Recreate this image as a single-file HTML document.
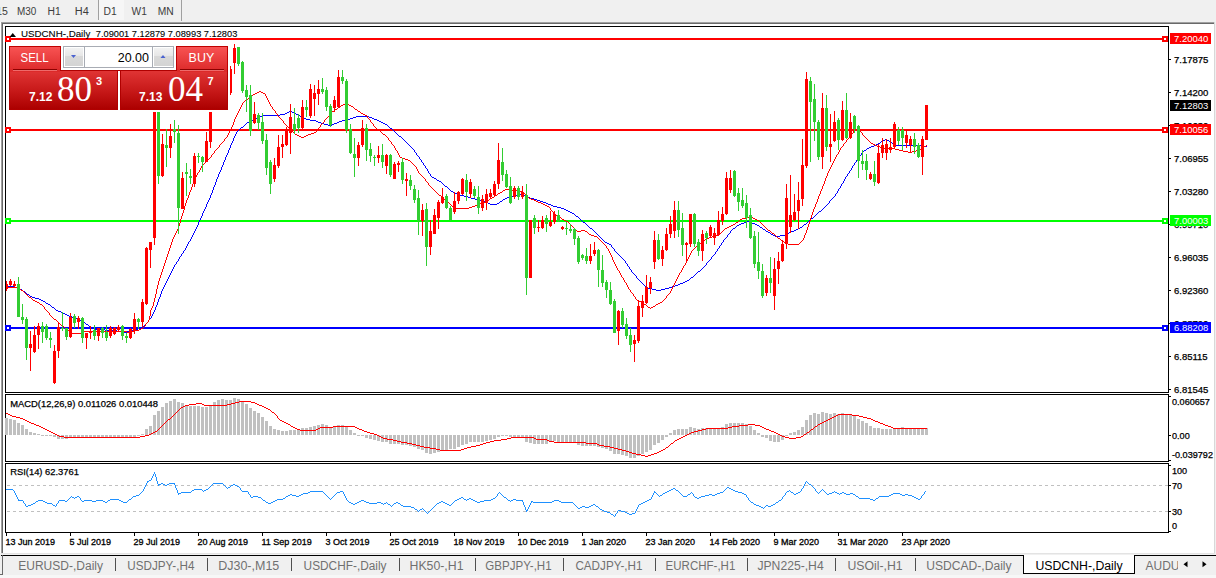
<!DOCTYPE html><html><head><meta charset="utf-8"><title>USDCNH-,Daily</title><style>
html,body{margin:0;padding:0;width:1216px;height:578px;overflow:hidden;background:#f0f0f0;}
svg{position:absolute;left:0;top:0;display:block}
text{font-family:"Liberation Sans",sans-serif;}
</style></head><body>
<svg width="1216" height="578" viewBox="0 0 1216 578">
<defs><linearGradient id="gTab" x1="0" y1="0" x2="0" y2="1"><stop offset="0" stop-color="#f85353"/><stop offset="1" stop-color="#dc2a2a"/></linearGradient><linearGradient id="gPan" x1="0" y1="0" x2="0" y2="1"><stop offset="0" stop-color="#e03434"/><stop offset="0.5" stop-color="#c81a1a"/><stop offset="1" stop-color="#ac0000"/></linearGradient><linearGradient id="gBtn" x1="0" y1="0" x2="0" y2="1"><stop offset="0" stop-color="#f2f2f2"/><stop offset="0.45" stop-color="#e6e6e6"/><stop offset="0.46" stop-color="#d9d9d9"/><stop offset="1" stop-color="#d4d4d4"/></linearGradient></defs>
<rect x="0" y="0" width="1216" height="22" fill="#f0f0f0"/>
<rect x="99" y="0" width="25" height="20" fill="#f6f6f6"/>
<rect x="98" y="0" width="1" height="20" fill="#a0a0a0"/>
<rect x="181" y="0" width="1" height="21" fill="#a0a0a0"/>
<text x="-12.6" y="14.5" font-size="10" fill="#3c3c3c" textLength="20.5" lengthAdjust="spacingAndGlyphs">M15</text>
<text x="16.9" y="14.5" font-size="10" fill="#3c3c3c" textLength="19.3" lengthAdjust="spacingAndGlyphs">M30</text>
<text x="47.6" y="14.5" font-size="10" fill="#3c3c3c" textLength="13.2" lengthAdjust="spacingAndGlyphs">H1</text>
<text x="74.8" y="14.5" font-size="10" fill="#3c3c3c" textLength="14" lengthAdjust="spacingAndGlyphs">H4</text>
<text x="103.6" y="14.5" font-size="10" fill="#3c3c3c" textLength="13.2" lengthAdjust="spacingAndGlyphs">D1</text>
<text x="131.5" y="14.5" font-size="10" fill="#3c3c3c" textLength="15.3" lengthAdjust="spacingAndGlyphs">W1</text>
<text x="157.8" y="14.5" font-size="10" fill="#3c3c3c" textLength="16" lengthAdjust="spacingAndGlyphs">MN</text>
<rect x="0" y="22" width="1216" height="534" fill="#f0f0f0"/>
<rect x="0" y="22" width="1" height="531" fill="#ffffff"/>
<rect x="1" y="22" width="1214" height="1" fill="#a0a0a0"/>
<rect x="1" y="22" width="1" height="531" fill="#a0a0a0"/>
<rect x="2" y="23" width="1212" height="1" fill="#696969"/>
<rect x="2" y="23" width="1" height="530" fill="#696969"/>
<rect x="3" y="24" width="1211" height="529" fill="#ffffff"/>
<rect x="1214" y="22" width="1" height="532" fill="#d8d8d8"/>
<rect x="1" y="553" width="1214" height="1" fill="#e3e3e3"/>
<rect x="5.5" y="26.5" width="1163" height="366" fill="none" stroke="#000" stroke-width="1"/>
<rect x="5.5" y="394.5" width="1163" height="67" fill="none" stroke="#000" stroke-width="1"/>
<rect x="5.5" y="463.5" width="1163" height="69" fill="none" stroke="#000" stroke-width="1"/>
<rect x="6" y="38" width="1162" height="2" fill="#ff0000"/>
<rect x="5" y="36" width="6" height="6" fill="#ff0000"/>
<rect x="7" y="38" width="2" height="2" fill="#fff"/>
<rect x="1162" y="36" width="6" height="6" fill="#ff0000"/>
<rect x="1164" y="38" width="2" height="2" fill="#fff"/>
<rect x="6" y="129" width="1162" height="2" fill="#ff0000"/>
<rect x="5" y="127" width="6" height="6" fill="#ff0000"/>
<rect x="7" y="129" width="2" height="2" fill="#fff"/>
<rect x="1162" y="127" width="6" height="6" fill="#ff0000"/>
<rect x="1164" y="129" width="2" height="2" fill="#fff"/>
<rect x="6" y="220" width="1162" height="2" fill="#00ff00"/>
<rect x="5" y="218" width="6" height="6" fill="#00ff00"/>
<rect x="7" y="220" width="2" height="2" fill="#fff"/>
<rect x="1162" y="218" width="6" height="6" fill="#00ff00"/>
<rect x="1164" y="220" width="2" height="2" fill="#fff"/>
<rect x="6" y="327" width="1162" height="2" fill="#0000ff"/>
<rect x="5" y="325" width="6" height="6" fill="#0000ff"/>
<rect x="7" y="327" width="2" height="2" fill="#fff"/>
<rect x="1162" y="325" width="6" height="6" fill="#0000ff"/>
<rect x="1164" y="327" width="2" height="2" fill="#fff"/>
<g clip-path="url(#cm)">
<path d="M6 286h1v1h-1zM7 286h1v1h-1zM8 286h1v1h-1zM9 286h1v1h-1zM10 286h1v1h-1zM11 286h1v1h-1zM12 286h1v1h-1zM13 286h1v1h-1zM14 286h1v1h-1zM15 287h1v1h-1zM16 287h1v1h-1zM17 287h1v1h-1zM18 288h1v1h-1zM19 288h1v1h-1zM20 289h1v1h-1zM21 289h1v1h-1zM22 290h1v1h-1zM23 291h1v1h-1zM24 291h1v1h-1zM25 292h1v1h-1zM26 293h1v1h-1zM27 294h1v1h-1zM28 294h1v1h-1zM29 295h1v1h-1zM30 296h1v1h-1zM31 296h1v1h-1zM32 297h1v1h-1zM33 297h1v1h-1zM34 297h1v1h-1zM35 298h1v1h-1zM36 298h1v1h-1zM37 298h1v1h-1zM38 298h1v1h-1zM39 299h1v1h-1zM40 299h1v1h-1zM41 300h1v1h-1zM42 300h1v1h-1zM43 301h1v1h-1zM44 301h1v1h-1zM45 302h1v1h-1zM46 303h1v1h-1zM47 303h1v1h-1zM48 304h1v1h-1zM49 304h1v1h-1zM50 305h1v1h-1zM51 306h1v1h-1zM52 307h1v1h-1zM53 307h1v1h-1zM54 308h1v1h-1zM55 309h1v1h-1zM56 310h1v1h-1zM57 310h1v1h-1zM58 311h1v1h-1zM59 311h1v1h-1zM60 311h1v1h-1zM61 312h1v1h-1zM62 312h1v1h-1zM63 313h1v1h-1zM64 313h1v1h-1zM65 314h1v1h-1zM66 314h1v1h-1zM67 315h1v1h-1zM68 315h1v1h-1zM69 316h1v1h-1zM70 316h1v1h-1zM71 316h1v1h-1zM72 317h1v1h-1zM73 317h1v1h-1zM74 317h1v1h-1zM75 318h1v1h-1zM76 318h1v1h-1zM77 318h1v1h-1zM78 319h1v1h-1zM79 319h1v1h-1zM80 320h1v1h-1zM81 320h1v1h-1zM82 321h1v1h-1zM83 321h1v1h-1zM84 322h1v1h-1zM85 323h1v1h-1zM86 324h1v1h-1zM87 324h1v1h-1zM88 325h1v1h-1zM89 326h1v1h-1zM90 327h1v1h-1zM91 327h1v1h-1zM92 328h1v1h-1zM93 328h1v1h-1zM94 329h1v1h-1zM95 329h1v1h-1zM96 329h1v1h-1zM97 329h1v1h-1zM98 329h1v1h-1zM99 329h1v1h-1zM100 329h1v1h-1zM101 329h1v1h-1zM102 329h1v1h-1zM103 329h1v1h-1zM104 329h1v1h-1zM105 330h1v1h-1zM106 330h1v1h-1zM107 330h1v1h-1zM108 330h1v1h-1zM109 330h1v1h-1zM110 330h1v1h-1zM111 330h1v1h-1zM112 330h1v1h-1zM113 330h1v1h-1zM114 330h1v1h-1zM115 330h1v1h-1zM116 330h1v1h-1zM117 331h1v1h-1zM118 331h1v1h-1zM119 331h1v1h-1zM120 331h1v1h-1zM121 331h1v1h-1zM122 331h1v1h-1zM123 332h1v1h-1zM124 332h1v1h-1zM125 332h1v1h-1zM126 332h1v1h-1zM127 331h1v1h-1zM128 331h1v1h-1zM129 331h1v1h-1zM130 331h1v1h-1zM131 330h1v1h-1zM132 330h1v1h-1zM133 330h1v1h-1zM134 329h1v1h-1zM135 329h1v1h-1zM136 329h1v1h-1zM137 329h1v1h-1zM138 328h1v1h-1zM139 328h1v1h-1zM140 328h1v1h-1zM141 327h1v1h-1zM142 326h1v1h-1zM143 326h1v1h-1zM144 325h1v1h-1zM145 324h1v1h-1zM146 323h1v1h-1zM147 322h1v1h-1zM148 320h1v2h-1zM149 319h1v1h-1zM150 318h1v1h-1zM151 316h1v2h-1zM152 314h1v2h-1zM153 312h1v2h-1zM154 310h1v2h-1zM155 307h1v3h-1zM156 305h1v2h-1zM157 302h1v3h-1zM158 299h1v3h-1zM159 297h1v2h-1zM160 294h1v3h-1zM161 291h1v3h-1zM162 289h1v2h-1zM163 287h1v2h-1zM164 285h1v2h-1zM165 283h1v2h-1zM166 281h1v2h-1zM167 279h1v2h-1zM168 277h1v2h-1zM169 275h1v2h-1zM170 273h1v2h-1zM171 271h1v2h-1zM172 269h1v2h-1zM173 267h1v2h-1zM174 265h1v2h-1zM175 264h1v1h-1zM176 262h1v2h-1zM177 261h1v1h-1zM178 259h1v2h-1zM179 257h1v2h-1zM180 256h1v1h-1zM181 254h1v2h-1zM182 253h1v1h-1zM183 251h1v2h-1zM184 250h1v1h-1zM185 248h1v2h-1zM186 246h1v2h-1zM187 244h1v2h-1zM188 242h1v2h-1zM189 241h1v1h-1zM190 239h1v2h-1zM191 237h1v2h-1zM192 235h1v2h-1zM193 233h1v2h-1zM194 231h1v2h-1zM195 229h1v2h-1zM196 227h1v2h-1zM197 225h1v2h-1zM198 222h1v3h-1zM199 220h1v2h-1zM200 218h1v2h-1zM201 216h1v2h-1zM202 213h1v3h-1zM203 211h1v2h-1zM204 209h1v2h-1zM205 207h1v2h-1zM206 204h1v3h-1zM207 202h1v2h-1zM208 200h1v2h-1zM209 198h1v2h-1zM210 195h1v3h-1zM211 193h1v2h-1zM212 190h1v3h-1zM213 187h1v3h-1zM214 185h1v2h-1zM215 182h1v3h-1zM216 179h1v3h-1zM217 177h1v2h-1zM218 174h1v3h-1zM219 172h1v2h-1zM220 170h1v2h-1zM221 167h1v3h-1zM222 165h1v2h-1zM223 162h1v3h-1zM224 160h1v2h-1zM225 157h1v3h-1zM226 155h1v2h-1zM227 153h1v2h-1zM228 150h1v3h-1zM229 148h1v2h-1zM230 145h1v3h-1zM231 143h1v2h-1zM232 141h1v2h-1zM233 138h1v3h-1zM234 136h1v2h-1zM235 134h1v2h-1zM236 132h1v2h-1zM237 131h1v1h-1zM238 130h1v1h-1zM239 129h1v1h-1zM240 128h1v1h-1zM241 127h1v1h-1zM242 127h1v1h-1zM243 126h1v1h-1zM244 125h1v1h-1zM245 124h1v1h-1zM246 123h1v1h-1zM247 122h1v1h-1zM248 122h1v1h-1zM249 121h1v1h-1zM250 121h1v1h-1zM251 120h1v1h-1zM252 120h1v1h-1zM253 119h1v1h-1zM254 119h1v1h-1zM255 118h1v1h-1zM256 118h1v1h-1zM257 118h1v1h-1zM258 117h1v1h-1zM259 117h1v1h-1zM260 116h1v1h-1zM261 116h1v1h-1zM262 116h1v1h-1zM263 115h1v1h-1zM264 115h1v1h-1zM265 115h1v1h-1zM266 115h1v1h-1zM267 115h1v1h-1zM268 115h1v1h-1zM269 115h1v1h-1zM270 115h1v1h-1zM271 115h1v1h-1zM272 115h1v1h-1zM273 115h1v1h-1zM274 115h1v1h-1zM275 115h1v1h-1zM276 115h1v1h-1zM277 115h1v1h-1zM278 115h1v1h-1zM279 115h1v1h-1zM280 114h1v1h-1zM281 114h1v1h-1zM282 114h1v1h-1zM283 114h1v1h-1zM284 114h1v1h-1zM285 113h1v1h-1zM286 113h1v1h-1zM287 112h1v1h-1zM288 112h1v1h-1zM289 111h1v1h-1zM290 111h1v1h-1zM291 111h1v1h-1zM292 112h1v1h-1zM293 112h1v1h-1zM294 113h1v1h-1zM295 113h1v1h-1zM296 114h1v1h-1zM297 114h1v1h-1zM298 115h1v1h-1zM299 115h1v1h-1zM300 116h1v1h-1zM301 116h1v1h-1zM302 117h1v1h-1zM303 117h1v1h-1zM304 118h1v1h-1zM305 118h1v1h-1zM306 119h1v1h-1zM307 119h1v1h-1zM308 119h1v1h-1zM309 119h1v1h-1zM310 120h1v1h-1zM311 120h1v1h-1zM312 120h1v1h-1zM313 120h1v1h-1zM314 120h1v1h-1zM315 120h1v1h-1zM316 121h1v1h-1zM317 121h1v1h-1zM318 122h1v1h-1zM319 122h1v1h-1zM320 122h1v1h-1zM321 123h1v1h-1zM322 123h1v1h-1zM323 123h1v1h-1zM324 124h1v1h-1zM325 124h1v1h-1zM326 124h1v1h-1zM327 124h1v1h-1zM328 125h1v1h-1zM329 125h1v1h-1zM330 125h1v1h-1zM331 125h1v1h-1zM332 124h1v1h-1zM333 124h1v1h-1zM334 123h1v1h-1zM335 123h1v1h-1zM336 123h1v1h-1zM337 122h1v1h-1zM338 122h1v1h-1zM339 121h1v1h-1zM340 121h1v1h-1zM341 121h1v1h-1zM342 120h1v1h-1zM343 120h1v1h-1zM344 120h1v1h-1zM345 120h1v1h-1zM346 119h1v1h-1zM347 119h1v1h-1zM348 119h1v1h-1zM349 119h1v1h-1zM350 118h1v1h-1zM351 118h1v1h-1zM352 118h1v1h-1zM353 117h1v1h-1zM354 117h1v1h-1zM355 117h1v1h-1zM356 116h1v1h-1zM357 116h1v1h-1zM358 116h1v1h-1zM359 116h1v1h-1zM360 116h1v1h-1zM361 116h1v1h-1zM362 116h1v1h-1zM363 116h1v1h-1zM364 116h1v1h-1zM365 116h1v1h-1zM366 116h1v1h-1zM367 116h1v1h-1zM368 116h1v1h-1zM369 117h1v1h-1zM370 117h1v1h-1zM371 117h1v1h-1zM372 118h1v1h-1zM373 118h1v1h-1zM374 119h1v1h-1zM375 119h1v1h-1zM376 119h1v1h-1zM377 120h1v1h-1zM378 120h1v1h-1zM379 121h1v1h-1zM380 121h1v1h-1zM381 122h1v1h-1zM382 122h1v1h-1zM383 123h1v1h-1zM384 123h1v1h-1zM385 124h1v1h-1zM386 124h1v1h-1zM387 125h1v1h-1zM388 126h1v1h-1zM389 127h1v1h-1zM390 128h1v1h-1zM391 128h1v1h-1zM392 129h1v1h-1zM393 130h1v1h-1zM394 131h1v1h-1zM395 132h1v1h-1zM396 133h1v1h-1zM397 134h1v1h-1zM398 135h1v1h-1zM399 136h1v1h-1zM400 136h1v1h-1zM401 137h1v1h-1zM402 138h1v1h-1zM403 139h1v1h-1zM404 140h1v1h-1zM405 141h1v1h-1zM406 142h1v1h-1zM407 143h1v1h-1zM408 144h1v1h-1zM409 145h1v1h-1zM410 146h1v1h-1zM411 147h1v1h-1zM412 148h1v1h-1zM413 149h1v1h-1zM414 150h1v2h-1zM415 152h1v1h-1zM416 153h1v2h-1zM417 155h1v1h-1zM418 156h1v1h-1zM419 157h1v2h-1zM420 159h1v1h-1zM421 160h1v2h-1zM422 162h1v1h-1zM423 163h1v2h-1zM424 165h1v1h-1zM425 166h1v2h-1zM426 168h1v1h-1zM427 169h1v2h-1zM428 171h1v2h-1zM429 173h1v1h-1zM430 174h1v2h-1zM431 176h1v1h-1zM432 177h1v1h-1zM433 177h1v1h-1zM434 178h1v1h-1zM435 178h1v1h-1zM436 179h1v1h-1zM437 180h1v1h-1zM438 180h1v1h-1zM439 181h1v1h-1zM440 181h1v1h-1zM441 182h1v1h-1zM442 183h1v1h-1zM443 184h1v1h-1zM444 185h1v1h-1zM445 186h1v1h-1zM446 186h1v1h-1zM447 187h1v1h-1zM448 188h1v1h-1zM449 189h1v1h-1zM450 190h1v1h-1zM451 191h1v1h-1zM452 191h1v1h-1zM453 192h1v1h-1zM454 192h1v1h-1zM455 193h1v1h-1zM456 193h1v1h-1zM457 194h1v1h-1zM458 194h1v1h-1zM459 194h1v1h-1zM460 195h1v1h-1zM461 195h1v1h-1zM462 195h1v1h-1zM463 195h1v1h-1zM464 196h1v1h-1zM465 196h1v1h-1zM466 196h1v1h-1zM467 196h1v1h-1zM468 197h1v1h-1zM469 197h1v1h-1zM470 197h1v1h-1zM471 198h1v1h-1zM472 198h1v1h-1zM473 198h1v1h-1zM474 198h1v1h-1zM475 199h1v1h-1zM476 199h1v1h-1zM477 199h1v1h-1zM478 199h1v1h-1zM479 200h1v1h-1zM480 200h1v1h-1zM481 200h1v1h-1zM482 200h1v1h-1zM483 201h1v1h-1zM484 201h1v1h-1zM485 202h1v1h-1zM486 202h1v1h-1zM487 202h1v1h-1zM488 203h1v1h-1zM489 203h1v1h-1zM490 204h1v1h-1zM491 204h1v1h-1zM492 204h1v1h-1zM493 204h1v1h-1zM494 204h1v1h-1zM495 204h1v1h-1zM496 204h1v1h-1zM497 203h1v1h-1zM498 203h1v1h-1zM499 202h1v1h-1zM500 201h1v1h-1zM501 201h1v1h-1zM502 200h1v1h-1zM503 199h1v1h-1zM504 199h1v1h-1zM505 198h1v1h-1zM506 198h1v1h-1zM507 197h1v1h-1zM508 197h1v1h-1zM509 197h1v1h-1zM510 196h1v1h-1zM511 196h1v1h-1zM512 196h1v1h-1zM513 195h1v1h-1zM514 195h1v1h-1zM515 195h1v1h-1zM516 195h1v1h-1zM517 195h1v1h-1zM518 194h1v1h-1zM519 194h1v1h-1zM520 194h1v1h-1zM521 194h1v1h-1zM522 194h1v1h-1zM523 195h1v1h-1zM524 195h1v1h-1zM525 196h1v1h-1zM526 196h1v1h-1zM527 197h1v1h-1zM528 197h1v1h-1zM529 197h1v1h-1zM530 198h1v1h-1zM531 198h1v1h-1zM532 198h1v1h-1zM533 198h1v1h-1zM534 199h1v1h-1zM535 199h1v1h-1zM536 199h1v1h-1zM537 200h1v1h-1zM538 200h1v1h-1zM539 200h1v1h-1zM540 201h1v1h-1zM541 201h1v1h-1zM542 201h1v1h-1zM543 202h1v1h-1zM544 202h1v1h-1zM545 202h1v1h-1zM546 203h1v1h-1zM547 203h1v1h-1zM548 204h1v1h-1zM549 204h1v1h-1zM550 204h1v1h-1zM551 205h1v1h-1zM552 205h1v1h-1zM553 206h1v1h-1zM554 206h1v1h-1zM555 206h1v1h-1zM556 206h1v1h-1zM557 207h1v1h-1zM558 207h1v1h-1zM559 207h1v1h-1zM560 207h1v1h-1zM561 208h1v1h-1zM562 208h1v1h-1zM563 208h1v1h-1zM564 209h1v1h-1zM565 209h1v1h-1zM566 210h1v1h-1zM567 210h1v1h-1zM568 211h1v1h-1zM569 211h1v1h-1zM570 212h1v1h-1zM571 212h1v1h-1zM572 213h1v1h-1zM573 213h1v1h-1zM574 214h1v1h-1zM575 215h1v1h-1zM576 216h1v1h-1zM577 216h1v1h-1zM578 217h1v1h-1zM579 218h1v1h-1zM580 219h1v1h-1zM581 220h1v1h-1zM582 221h1v1h-1zM583 222h1v1h-1zM584 222h1v1h-1zM585 223h1v1h-1zM586 224h1v1h-1zM587 225h1v1h-1zM588 226h1v1h-1zM589 227h1v1h-1zM590 228h1v1h-1zM591 228h1v1h-1zM592 229h1v1h-1zM593 230h1v1h-1zM594 231h1v1h-1zM595 232h1v1h-1zM596 233h1v1h-1zM597 234h1v1h-1zM598 235h1v1h-1zM599 236h1v1h-1zM600 237h1v1h-1zM601 238h1v1h-1zM602 239h1v1h-1zM603 240h1v1h-1zM604 241h1v1h-1zM605 242h1v1h-1zM606 242h1v1h-1zM607 243h1v1h-1zM608 243h1v1h-1zM609 244h1v1h-1zM610 244h1v1h-1zM611 245h1v2h-1zM612 247h1v1h-1zM613 248h1v1h-1zM614 249h1v2h-1zM615 251h1v1h-1zM616 252h1v1h-1zM617 253h1v1h-1zM618 254h1v1h-1zM619 255h1v1h-1zM620 256h1v1h-1zM621 257h1v1h-1zM622 258h1v1h-1zM623 259h1v1h-1zM624 260h1v1h-1zM625 261h1v2h-1zM626 263h1v1h-1zM627 264h1v2h-1zM628 266h1v1h-1zM629 267h1v2h-1zM630 269h1v1h-1zM631 270h1v2h-1zM632 272h1v1h-1zM633 273h1v1h-1zM634 274h1v1h-1zM635 275h1v1h-1zM636 276h1v2h-1zM637 278h1v1h-1zM638 279h1v1h-1zM639 280h1v1h-1zM640 281h1v1h-1zM641 282h1v1h-1zM642 283h1v1h-1zM643 284h1v1h-1zM644 285h1v1h-1zM645 286h1v1h-1zM646 287h1v1h-1zM647 287h1v1h-1zM648 288h1v1h-1zM649 288h1v1h-1zM650 288h1v1h-1zM651 288h1v1h-1zM652 289h1v1h-1zM653 289h1v1h-1zM654 289h1v1h-1zM655 289h1v1h-1zM656 290h1v1h-1zM657 290h1v1h-1zM658 290h1v1h-1zM659 290h1v1h-1zM660 290h1v1h-1zM661 289h1v1h-1zM662 289h1v1h-1zM663 289h1v1h-1zM664 289h1v1h-1zM665 288h1v1h-1zM666 288h1v1h-1zM667 288h1v1h-1zM668 288h1v1h-1zM669 287h1v1h-1zM670 287h1v1h-1zM671 287h1v1h-1zM672 286h1v1h-1zM673 286h1v1h-1zM674 286h1v1h-1zM675 285h1v1h-1zM676 285h1v1h-1zM677 285h1v1h-1zM678 284h1v1h-1zM679 284h1v1h-1zM680 283h1v1h-1zM681 283h1v1h-1zM682 283h1v1h-1zM683 282h1v1h-1zM684 282h1v1h-1zM685 281h1v1h-1zM686 281h1v1h-1zM687 280h1v1h-1zM688 280h1v1h-1zM689 279h1v1h-1zM690 278h1v1h-1zM691 277h1v1h-1zM692 277h1v1h-1zM693 276h1v1h-1zM694 275h1v1h-1zM695 274h1v1h-1zM696 273h1v1h-1zM697 272h1v1h-1zM698 271h1v1h-1zM699 271h1v1h-1zM700 270h1v1h-1zM701 269h1v1h-1zM702 268h1v1h-1zM703 267h1v1h-1zM704 266h1v1h-1zM705 265h1v1h-1zM706 263h1v2h-1zM707 262h1v1h-1zM708 261h1v1h-1zM709 260h1v1h-1zM710 259h1v1h-1zM711 257h1v2h-1zM712 256h1v1h-1zM713 255h1v1h-1zM714 254h1v1h-1zM715 252h1v2h-1zM716 251h1v1h-1zM717 249h1v2h-1zM718 248h1v1h-1zM719 246h1v2h-1zM720 245h1v1h-1zM721 243h1v2h-1zM722 242h1v1h-1zM723 240h1v2h-1zM724 239h1v1h-1zM725 238h1v1h-1zM726 237h1v1h-1zM727 235h1v2h-1zM728 234h1v1h-1zM729 233h1v1h-1zM730 231h1v2h-1zM731 230h1v1h-1zM732 229h1v1h-1zM733 228h1v1h-1zM734 228h1v1h-1zM735 227h1v1h-1zM736 226h1v1h-1zM737 225h1v1h-1zM738 225h1v1h-1zM739 224h1v1h-1zM740 224h1v1h-1zM741 223h1v1h-1zM742 223h1v1h-1zM743 223h1v1h-1zM744 222h1v1h-1zM745 222h1v1h-1zM746 222h1v1h-1zM747 221h1v1h-1zM748 221h1v1h-1zM749 221h1v1h-1zM750 222h1v1h-1zM751 222h1v1h-1zM752 223h1v1h-1zM753 223h1v1h-1zM754 223h1v1h-1zM755 224h1v1h-1zM756 224h1v1h-1zM757 225h1v1h-1zM758 225h1v1h-1zM759 226h1v1h-1zM760 227h1v1h-1zM761 227h1v1h-1zM762 228h1v1h-1zM763 229h1v1h-1zM764 229h1v1h-1zM765 230h1v1h-1zM766 231h1v1h-1zM767 231h1v1h-1zM768 232h1v1h-1zM769 232h1v1h-1zM770 233h1v1h-1zM771 234h1v1h-1zM772 234h1v1h-1zM773 235h1v1h-1zM774 235h1v1h-1zM775 236h1v1h-1zM776 236h1v1h-1zM777 236h1v1h-1zM778 236h1v1h-1zM779 236h1v1h-1zM780 235h1v1h-1zM781 235h1v1h-1zM782 235h1v1h-1zM783 235h1v1h-1zM784 235h1v1h-1zM785 234h1v1h-1zM786 234h1v1h-1zM787 233h1v1h-1zM788 233h1v1h-1zM789 232h1v1h-1zM790 232h1v1h-1zM791 231h1v1h-1zM792 231h1v1h-1zM793 231h1v1h-1zM794 230h1v1h-1zM795 230h1v1h-1zM796 229h1v1h-1zM797 229h1v1h-1zM798 228h1v1h-1zM799 228h1v1h-1zM800 227h1v1h-1zM801 227h1v1h-1zM802 226h1v1h-1zM803 225h1v1h-1zM804 224h1v1h-1zM805 224h1v1h-1zM806 223h1v1h-1zM807 222h1v1h-1zM808 221h1v1h-1zM809 220h1v1h-1zM810 219h1v1h-1zM811 218h1v1h-1zM812 218h1v1h-1zM813 217h1v1h-1zM814 216h1v1h-1zM815 215h1v1h-1zM816 214h1v1h-1zM817 213h1v1h-1zM818 212h1v1h-1zM819 211h1v1h-1zM820 211h1v1h-1zM821 210h1v1h-1zM822 209h1v1h-1zM823 208h1v1h-1zM824 207h1v1h-1zM825 206h1v1h-1zM826 205h1v1h-1zM827 204h1v1h-1zM828 203h1v1h-1zM829 201h1v2h-1zM830 200h1v1h-1zM831 199h1v1h-1zM832 198h1v1h-1zM833 197h1v1h-1zM834 196h1v1h-1zM835 194h1v2h-1zM836 193h1v1h-1zM837 191h1v2h-1zM838 189h1v2h-1zM839 188h1v1h-1zM840 186h1v2h-1zM841 184h1v2h-1zM842 183h1v1h-1zM843 181h1v2h-1zM844 179h1v2h-1zM845 177h1v2h-1zM846 176h1v1h-1zM847 174h1v2h-1zM848 173h1v1h-1zM849 171h1v2h-1zM850 170h1v1h-1zM851 168h1v2h-1zM852 166h1v2h-1zM853 165h1v1h-1zM854 163h1v2h-1zM855 162h1v1h-1zM856 160h1v2h-1zM857 159h1v1h-1zM858 158h1v1h-1zM859 156h1v2h-1zM860 155h1v1h-1zM861 153h1v2h-1zM862 152h1v1h-1zM863 151h1v1h-1zM864 150h1v1h-1zM865 150h1v1h-1zM866 149h1v1h-1zM867 148h1v1h-1zM868 148h1v1h-1zM869 147h1v1h-1zM870 147h1v1h-1zM871 146h1v1h-1zM872 146h1v1h-1zM873 146h1v1h-1zM874 145h1v1h-1zM875 145h1v1h-1zM876 144h1v1h-1zM877 144h1v1h-1zM878 143h1v1h-1zM879 143h1v1h-1zM880 142h1v1h-1zM881 141h1v1h-1zM882 141h1v1h-1zM883 140h1v1h-1zM884 140h1v1h-1zM885 139h1v1h-1zM886 139h1v1h-1zM887 140h1v1h-1zM888 140h1v1h-1zM889 141h1v1h-1zM890 142h1v1h-1zM891 142h1v1h-1zM892 143h1v1h-1zM893 143h1v1h-1zM894 144h1v1h-1zM895 144h1v1h-1zM896 145h1v1h-1zM897 145h1v1h-1zM898 145h1v1h-1zM899 145h1v1h-1zM900 145h1v1h-1zM901 145h1v1h-1zM902 145h1v1h-1zM903 145h1v1h-1zM904 145h1v1h-1zM905 145h1v1h-1zM906 145h1v1h-1zM907 145h1v1h-1zM908 145h1v1h-1zM909 145h1v1h-1zM910 145h1v1h-1zM911 145h1v1h-1zM912 145h1v1h-1zM913 145h1v1h-1zM914 145h1v1h-1zM915 145h1v1h-1zM916 145h1v1h-1zM917 145h1v1h-1zM918 145h1v1h-1zM919 145h1v1h-1zM920 145h1v1h-1zM921 145h1v1h-1zM922 146h1v1h-1zM923 146h1v1h-1zM924 146h1v1h-1zM925 146h1v1h-1zM926 146h1v1h-1z" fill="#0000ff" shape-rendering="crispEdges" />
<path d="M6 287h1v1h-1zM7 287h1v1h-1zM8 287h1v1h-1zM9 287h1v1h-1zM10 287h1v1h-1zM11 287h1v1h-1zM12 287h1v1h-1zM13 287h1v1h-1zM14 287h1v1h-1zM15 287h1v1h-1zM16 287h1v1h-1zM17 288h1v1h-1zM18 288h1v1h-1zM19 289h1v1h-1zM20 289h1v1h-1zM21 290h1v1h-1zM22 290h1v1h-1zM23 291h1v1h-1zM24 292h1v1h-1zM25 293h1v1h-1zM26 294h1v1h-1zM27 295h1v1h-1zM28 296h1v1h-1zM29 297h1v1h-1zM30 297h1v1h-1zM31 298h1v1h-1zM32 299h1v1h-1zM33 300h1v1h-1zM34 300h1v1h-1zM35 301h1v1h-1zM36 301h1v1h-1zM37 302h1v1h-1zM38 302h1v1h-1zM39 303h1v1h-1zM40 304h1v1h-1zM41 304h1v1h-1zM42 305h1v1h-1zM43 306h1v1h-1zM44 307h1v2h-1zM45 309h1v1h-1zM46 310h1v1h-1zM47 311h1v1h-1zM48 312h1v1h-1zM49 313h1v2h-1zM50 315h1v1h-1zM51 316h1v1h-1zM52 317h1v1h-1zM53 318h1v1h-1zM54 319h1v1h-1zM55 319h1v1h-1zM56 320h1v1h-1zM57 321h1v1h-1zM58 322h1v1h-1zM59 323h1v1h-1zM60 324h1v1h-1zM61 325h1v1h-1zM62 325h1v1h-1zM63 326h1v1h-1zM64 327h1v1h-1zM65 328h1v1h-1zM66 328h1v1h-1zM67 329h1v1h-1zM68 330h1v1h-1zM69 331h1v1h-1zM70 332h1v1h-1zM71 332h1v1h-1zM72 333h1v1h-1zM73 333h1v1h-1zM74 333h1v1h-1zM75 333h1v1h-1zM76 333h1v1h-1zM77 333h1v1h-1zM78 333h1v1h-1zM79 333h1v1h-1zM80 333h1v1h-1zM81 333h1v1h-1zM82 333h1v1h-1zM83 332h1v1h-1zM84 331h1v1h-1zM85 331h1v1h-1zM86 331h1v1h-1zM87 331h1v1h-1zM88 331h1v1h-1zM89 331h1v1h-1zM90 331h1v1h-1zM91 331h1v1h-1zM92 331h1v1h-1zM93 331h1v1h-1zM94 331h1v1h-1zM95 331h1v1h-1zM96 331h1v1h-1zM97 331h1v1h-1zM98 331h1v1h-1zM99 331h1v1h-1zM100 331h1v1h-1zM101 331h1v1h-1zM102 331h1v1h-1zM103 331h1v1h-1zM104 331h1v1h-1zM105 331h1v1h-1zM106 331h1v1h-1zM107 331h1v1h-1zM108 331h1v1h-1zM109 331h1v1h-1zM110 331h1v1h-1zM111 331h1v1h-1zM112 331h1v1h-1zM113 331h1v1h-1zM114 331h1v1h-1zM115 331h1v1h-1zM116 331h1v1h-1zM117 331h1v1h-1zM118 331h1v1h-1zM119 331h1v1h-1zM120 331h1v1h-1zM121 331h1v1h-1zM122 331h1v1h-1zM123 331h1v1h-1zM124 331h1v1h-1zM125 331h1v1h-1zM126 331h1v1h-1zM127 332h1v1h-1zM128 332h1v1h-1zM129 332h1v1h-1zM130 331h1v1h-1zM131 331h1v1h-1zM132 331h1v1h-1zM133 331h1v1h-1zM134 331h1v1h-1zM135 330h1v1h-1zM136 330h1v1h-1zM137 330h1v1h-1zM138 330h1v1h-1zM139 329h1v1h-1zM140 329h1v1h-1zM141 328h1v1h-1zM142 328h1v1h-1zM143 327h1v1h-1zM144 326h1v1h-1zM145 324h1v2h-1zM146 323h1v1h-1zM147 322h1v1h-1zM148 320h1v2h-1zM149 316h1v4h-1zM150 310h1v6h-1zM151 308h1v2h-1zM152 306h1v2h-1zM153 302h1v4h-1zM154 298h1v4h-1zM155 294h1v4h-1zM156 289h1v5h-1zM157 285h1v4h-1zM158 281h1v4h-1zM159 278h1v3h-1zM160 275h1v3h-1zM161 272h1v3h-1zM162 269h1v3h-1zM163 266h1v3h-1zM164 263h1v3h-1zM165 260h1v3h-1zM166 257h1v3h-1zM167 254h1v3h-1zM168 251h1v3h-1zM169 248h1v3h-1zM170 245h1v3h-1zM171 242h1v3h-1zM172 239h1v3h-1zM173 237h1v2h-1zM174 235h1v2h-1zM175 233h1v2h-1zM176 231h1v2h-1zM177 229h1v2h-1zM178 226h1v3h-1zM179 223h1v3h-1zM180 219h1v4h-1zM181 216h1v3h-1zM182 213h1v3h-1zM183 210h1v3h-1zM184 206h1v4h-1zM185 203h1v3h-1zM186 200h1v3h-1zM187 198h1v2h-1zM188 195h1v3h-1zM189 192h1v3h-1zM190 190h1v2h-1zM191 187h1v3h-1zM192 184h1v3h-1zM193 182h1v2h-1zM194 179h1v3h-1zM195 177h1v2h-1zM196 175h1v2h-1zM197 173h1v2h-1zM198 172h1v1h-1zM199 170h1v2h-1zM200 168h1v2h-1zM201 166h1v2h-1zM202 165h1v1h-1zM203 164h1v1h-1zM204 163h1v1h-1zM205 162h1v1h-1zM206 161h1v1h-1zM207 160h1v1h-1zM208 159h1v1h-1zM209 158h1v1h-1zM210 157h1v1h-1zM211 155h1v2h-1zM212 154h1v1h-1zM213 153h1v1h-1zM214 151h1v2h-1zM215 150h1v1h-1zM216 149h1v1h-1zM217 148h1v1h-1zM218 147h1v1h-1zM219 145h1v2h-1zM220 144h1v1h-1zM221 143h1v1h-1zM222 142h1v1h-1zM223 141h1v1h-1zM224 139h1v2h-1zM225 138h1v1h-1zM226 137h1v1h-1zM227 135h1v2h-1zM228 133h1v2h-1zM229 131h1v2h-1zM230 129h1v2h-1zM231 127h1v2h-1zM232 125h1v2h-1zM233 122h1v3h-1zM234 119h1v3h-1zM235 117h1v2h-1zM236 115h1v2h-1zM237 113h1v2h-1zM238 111h1v2h-1zM239 109h1v2h-1zM240 107h1v2h-1zM241 105h1v2h-1zM242 103h1v2h-1zM243 102h1v1h-1zM244 101h1v1h-1zM245 100h1v1h-1zM246 100h1v1h-1zM247 99h1v1h-1zM248 98h1v1h-1zM249 97h1v1h-1zM250 97h1v1h-1zM251 96h1v1h-1zM252 95h1v1h-1zM253 94h1v1h-1zM254 94h1v1h-1zM255 93h1v1h-1zM256 93h1v1h-1zM257 92h1v1h-1zM258 92h1v1h-1zM259 91h1v1h-1zM260 91h1v1h-1zM261 92h1v1h-1zM262 92h1v1h-1zM263 93h1v1h-1zM264 93h1v1h-1zM265 94h1v2h-1zM266 96h1v2h-1zM267 98h1v2h-1zM268 100h1v2h-1zM269 102h1v2h-1zM270 104h1v2h-1zM271 106h1v1h-1zM272 107h1v2h-1zM273 109h1v1h-1zM274 110h1v1h-1zM275 111h1v2h-1zM276 113h1v1h-1zM277 114h1v2h-1zM278 116h1v1h-1zM279 117h1v1h-1zM280 118h1v1h-1zM281 119h1v1h-1zM282 120h1v1h-1zM283 121h1v2h-1zM284 123h1v1h-1zM285 124h1v1h-1zM286 125h1v1h-1zM287 126h1v1h-1zM288 127h1v1h-1zM289 128h1v1h-1zM290 129h1v1h-1zM291 130h1v1h-1zM292 131h1v1h-1zM293 132h1v1h-1zM294 133h1v1h-1zM295 134h1v1h-1zM296 134h1v1h-1zM297 135h1v1h-1zM298 135h1v1h-1zM299 136h1v1h-1zM300 136h1v1h-1zM301 137h1v1h-1zM302 137h1v1h-1zM303 137h1v1h-1zM304 136h1v1h-1zM305 136h1v1h-1zM306 135h1v1h-1zM307 135h1v1h-1zM308 134h1v1h-1zM309 134h1v1h-1zM310 134h1v1h-1zM311 133h1v1h-1zM312 133h1v1h-1zM313 133h1v1h-1zM314 132h1v1h-1zM315 132h1v1h-1zM316 131h1v1h-1zM317 129h1v2h-1zM318 128h1v1h-1zM319 127h1v1h-1zM320 125h1v2h-1zM321 124h1v1h-1zM322 123h1v1h-1zM323 122h1v1h-1zM324 120h1v2h-1zM325 119h1v1h-1zM326 118h1v1h-1zM327 117h1v1h-1zM328 116h1v1h-1zM329 114h1v2h-1zM330 113h1v1h-1zM331 112h1v1h-1zM332 111h1v1h-1zM333 111h1v1h-1zM334 110h1v1h-1zM335 109h1v1h-1zM336 109h1v1h-1zM337 108h1v1h-1zM338 107h1v1h-1zM339 107h1v1h-1zM340 106h1v1h-1zM341 105h1v1h-1zM342 105h1v1h-1zM343 104h1v1h-1zM344 104h1v1h-1zM345 103h1v1h-1zM346 103h1v1h-1zM347 104h1v1h-1zM348 104h1v1h-1zM349 105h1v1h-1zM350 105h1v1h-1zM351 106h1v1h-1zM352 106h1v1h-1zM353 107h1v1h-1zM354 108h1v1h-1zM355 109h1v1h-1zM356 109h1v1h-1zM357 110h1v1h-1zM358 111h1v1h-1zM359 111h1v1h-1zM360 112h1v1h-1zM361 113h1v1h-1zM362 113h1v1h-1zM363 114h1v1h-1zM364 114h1v1h-1zM365 115h1v1h-1zM366 115h1v1h-1zM367 116h1v2h-1zM368 118h1v1h-1zM369 119h1v1h-1zM370 120h1v2h-1zM371 122h1v1h-1zM372 123h1v1h-1zM373 124h1v2h-1zM374 126h1v1h-1zM375 127h1v1h-1zM376 128h1v1h-1zM377 129h1v1h-1zM378 129h1v1h-1zM379 130h1v1h-1zM380 131h1v1h-1zM381 132h1v1h-1zM382 133h1v1h-1zM383 134h1v1h-1zM384 134h1v1h-1zM385 135h1v1h-1zM386 136h1v1h-1zM387 137h1v1h-1zM388 138h1v2h-1zM389 140h1v1h-1zM390 141h1v1h-1zM391 142h1v2h-1zM392 144h1v1h-1zM393 145h1v1h-1zM394 146h1v2h-1zM395 148h1v2h-1zM396 150h1v1h-1zM397 151h1v2h-1zM398 153h1v2h-1zM399 155h1v2h-1zM400 157h1v1h-1zM401 157h1v1h-1zM402 158h1v1h-1zM403 158h1v1h-1zM404 158h1v1h-1zM405 159h1v1h-1zM406 159h1v1h-1zM407 159h1v1h-1zM408 160h1v1h-1zM409 160h1v1h-1zM410 161h1v1h-1zM411 162h1v1h-1zM412 163h1v1h-1zM413 164h1v1h-1zM414 165h1v1h-1zM415 166h1v1h-1zM416 167h1v2h-1zM417 169h1v2h-1zM418 171h1v2h-1zM419 173h1v1h-1zM420 174h1v1h-1zM421 175h1v1h-1zM422 176h1v1h-1zM423 177h1v1h-1zM424 178h1v1h-1zM425 179h1v2h-1zM426 181h1v1h-1zM427 182h1v1h-1zM428 183h1v2h-1zM429 185h1v1h-1zM430 186h1v1h-1zM431 187h1v1h-1zM432 188h1v1h-1zM433 189h1v1h-1zM434 190h1v1h-1zM435 191h1v1h-1zM436 192h1v1h-1zM437 193h1v1h-1zM438 194h1v1h-1zM439 195h1v1h-1zM440 195h1v1h-1zM441 196h1v1h-1zM442 197h1v1h-1zM443 198h1v1h-1zM444 199h1v1h-1zM445 200h1v1h-1zM446 201h1v1h-1zM447 202h1v1h-1zM448 202h1v1h-1zM449 203h1v1h-1zM450 204h1v1h-1zM451 205h1v1h-1zM452 206h1v1h-1zM453 206h1v1h-1zM454 207h1v1h-1zM455 207h1v1h-1zM456 208h1v1h-1zM457 208h1v1h-1zM458 208h1v1h-1zM459 208h1v1h-1zM460 208h1v1h-1zM461 208h1v1h-1zM462 208h1v1h-1zM463 208h1v1h-1zM464 208h1v1h-1zM465 208h1v1h-1zM466 208h1v1h-1zM467 208h1v1h-1zM468 208h1v1h-1zM469 207h1v1h-1zM470 207h1v1h-1zM471 207h1v1h-1zM472 206h1v1h-1zM473 206h1v1h-1zM474 206h1v1h-1zM475 205h1v1h-1zM476 205h1v1h-1zM477 205h1v1h-1zM478 204h1v1h-1zM479 204h1v1h-1zM480 203h1v1h-1zM481 203h1v1h-1zM482 203h1v1h-1zM483 202h1v1h-1zM484 202h1v1h-1zM485 201h1v1h-1zM486 201h1v1h-1zM487 200h1v1h-1zM488 200h1v1h-1zM489 199h1v1h-1zM490 198h1v1h-1zM491 198h1v1h-1zM492 197h1v1h-1zM493 197h1v1h-1zM494 196h1v1h-1zM495 195h1v1h-1zM496 195h1v1h-1zM497 194h1v1h-1zM498 193h1v1h-1zM499 193h1v1h-1zM500 192h1v1h-1zM501 192h1v1h-1zM502 191h1v1h-1zM503 190h1v1h-1zM504 190h1v1h-1zM505 189h1v1h-1zM506 189h1v1h-1zM507 189h1v1h-1zM508 189h1v1h-1zM509 190h1v1h-1zM510 190h1v1h-1zM511 190h1v1h-1zM512 190h1v1h-1zM513 190h1v1h-1zM514 190h1v1h-1zM515 190h1v1h-1zM516 190h1v1h-1zM517 191h1v1h-1zM518 191h1v1h-1zM519 191h1v1h-1zM520 191h1v1h-1zM521 191h1v1h-1zM522 191h1v1h-1zM523 192h1v1h-1zM524 193h1v1h-1zM525 194h1v1h-1zM526 195h1v1h-1zM527 196h1v1h-1zM528 197h1v1h-1zM529 198h1v1h-1zM530 198h1v1h-1zM531 199h1v1h-1zM532 199h1v1h-1zM533 199h1v1h-1zM534 200h1v1h-1zM535 200h1v1h-1zM536 201h1v1h-1zM537 201h1v1h-1zM538 202h1v1h-1zM539 202h1v1h-1zM540 202h1v1h-1zM541 203h1v1h-1zM542 203h1v1h-1zM543 204h1v1h-1zM544 204h1v1h-1zM545 205h1v1h-1zM546 205h1v1h-1zM547 206h1v1h-1zM548 206h1v1h-1zM549 207h1v1h-1zM550 208h1v2h-1zM551 210h1v1h-1zM552 211h1v1h-1zM553 212h1v2h-1zM554 214h1v1h-1zM555 215h1v1h-1zM556 215h1v1h-1zM557 216h1v1h-1zM558 216h1v1h-1zM559 217h1v1h-1zM560 217h1v1h-1zM561 218h1v1h-1zM562 219h1v1h-1zM563 219h1v1h-1zM564 220h1v1h-1zM565 220h1v1h-1zM566 221h1v1h-1zM567 221h1v1h-1zM568 222h1v1h-1zM569 223h1v1h-1zM570 224h1v1h-1zM571 225h1v1h-1zM572 226h1v1h-1zM573 227h1v1h-1zM574 228h1v1h-1zM575 229h1v1h-1zM576 230h1v1h-1zM577 231h1v1h-1zM578 231h1v1h-1zM579 231h1v1h-1zM580 231h1v1h-1zM581 230h1v1h-1zM582 230h1v1h-1zM583 230h1v1h-1zM584 230h1v1h-1zM585 231h1v1h-1zM586 231h1v1h-1zM587 232h1v1h-1zM588 233h1v1h-1zM589 234h1v1h-1zM590 234h1v1h-1zM591 235h1v1h-1zM592 235h1v1h-1zM593 235h1v1h-1zM594 236h1v1h-1zM595 236h1v1h-1zM596 236h1v1h-1zM597 237h1v1h-1zM598 238h1v1h-1zM599 239h1v1h-1zM600 240h1v1h-1zM601 241h1v1h-1zM602 242h1v1h-1zM603 243h1v1h-1zM604 244h1v1h-1zM605 245h1v1h-1zM606 246h1v2h-1zM607 248h1v1h-1zM608 249h1v2h-1zM609 251h1v2h-1zM610 253h1v2h-1zM611 255h1v2h-1zM612 257h1v3h-1zM613 260h1v2h-1zM614 262h1v2h-1zM615 264h1v2h-1zM616 266h1v2h-1zM617 268h1v2h-1zM618 270h1v1h-1zM619 271h1v2h-1zM620 273h1v2h-1zM621 275h1v2h-1zM622 277h1v1h-1zM623 278h1v2h-1zM624 280h1v2h-1zM625 282h1v1h-1zM626 283h1v2h-1zM627 285h1v2h-1zM628 287h1v2h-1zM629 289h1v1h-1zM630 290h1v2h-1zM631 292h1v1h-1zM632 293h1v1h-1zM633 294h1v2h-1zM634 296h1v1h-1zM635 297h1v2h-1zM636 299h1v1h-1zM637 300h1v1h-1zM638 300h1v1h-1zM639 301h1v1h-1zM640 301h1v1h-1zM641 302h1v1h-1zM642 302h1v1h-1zM643 303h1v1h-1zM644 304h1v1h-1zM645 304h1v1h-1zM646 305h1v1h-1zM647 306h1v1h-1zM648 307h1v1h-1zM649 307h1v1h-1zM650 308h1v1h-1zM651 307h1v1h-1zM652 307h1v1h-1zM653 306h1v1h-1zM654 306h1v1h-1zM655 305h1v1h-1zM656 304h1v1h-1zM657 304h1v1h-1zM658 303h1v1h-1zM659 303h1v1h-1zM660 302h1v1h-1zM661 302h1v1h-1zM662 301h1v1h-1zM663 300h1v1h-1zM664 299h1v1h-1zM665 298h1v1h-1zM666 296h1v2h-1zM667 295h1v1h-1zM668 294h1v1h-1zM669 293h1v1h-1zM670 291h1v2h-1zM671 289h1v2h-1zM672 287h1v2h-1zM673 285h1v2h-1zM674 283h1v2h-1zM675 281h1v2h-1zM676 279h1v2h-1zM677 277h1v2h-1zM678 275h1v2h-1zM679 273h1v2h-1zM680 272h1v1h-1zM681 270h1v2h-1zM682 268h1v2h-1zM683 266h1v2h-1zM684 265h1v1h-1zM685 263h1v2h-1zM686 261h1v2h-1zM687 259h1v2h-1zM688 257h1v2h-1zM689 255h1v2h-1zM690 253h1v2h-1zM691 251h1v2h-1zM692 250h1v1h-1zM693 249h1v1h-1zM694 248h1v1h-1zM695 247h1v1h-1zM696 246h1v1h-1zM697 245h1v1h-1zM698 244h1v1h-1zM699 243h1v1h-1zM700 243h1v1h-1zM701 242h1v1h-1zM702 241h1v1h-1zM703 241h1v1h-1zM704 240h1v1h-1zM705 239h1v1h-1zM706 239h1v1h-1zM707 238h1v1h-1zM708 238h1v1h-1zM709 237h1v1h-1zM710 237h1v1h-1zM711 237h1v1h-1zM712 236h1v1h-1zM713 236h1v1h-1zM714 236h1v1h-1zM715 235h1v1h-1zM716 235h1v1h-1zM717 235h1v1h-1zM718 234h1v1h-1zM719 234h1v1h-1zM720 233h1v1h-1zM721 232h1v1h-1zM722 231h1v1h-1zM723 230h1v1h-1zM724 229h1v1h-1zM725 228h1v1h-1zM726 228h1v1h-1zM727 227h1v1h-1zM728 227h1v1h-1zM729 226h1v1h-1zM730 226h1v1h-1zM731 225h1v1h-1zM732 225h1v1h-1zM733 224h1v1h-1zM734 224h1v1h-1zM735 223h1v1h-1zM736 222h1v1h-1zM737 222h1v1h-1zM738 221h1v1h-1zM739 220h1v1h-1zM740 219h1v1h-1zM741 219h1v1h-1zM742 218h1v1h-1zM743 218h1v1h-1zM744 218h1v1h-1zM745 218h1v1h-1zM746 218h1v1h-1zM747 217h1v1h-1zM748 217h1v1h-1zM749 217h1v1h-1zM750 217h1v1h-1zM751 217h1v1h-1zM752 217h1v1h-1zM753 218h1v1h-1zM754 218h1v1h-1zM755 219h1v1h-1zM756 219h1v1h-1zM757 220h1v1h-1zM758 220h1v1h-1zM759 221h1v1h-1zM760 222h1v1h-1zM761 223h1v1h-1zM762 224h1v1h-1zM763 225h1v1h-1zM764 226h1v1h-1zM765 227h1v1h-1zM766 228h1v1h-1zM767 229h1v1h-1zM768 230h1v1h-1zM769 230h1v1h-1zM770 231h1v1h-1zM771 232h1v1h-1zM772 233h1v1h-1zM773 233h1v1h-1zM774 234h1v1h-1zM775 235h1v1h-1zM776 236h1v1h-1zM777 237h1v1h-1zM778 238h1v1h-1zM779 238h1v1h-1zM780 239h1v1h-1zM781 240h1v1h-1zM782 241h1v1h-1zM783 241h1v1h-1zM784 242h1v1h-1zM785 242h1v1h-1zM786 243h1v1h-1zM787 243h1v1h-1zM788 244h1v1h-1zM789 244h1v1h-1zM790 244h1v1h-1zM791 244h1v1h-1zM792 244h1v1h-1zM793 244h1v1h-1zM794 244h1v1h-1zM795 244h1v1h-1zM796 244h1v1h-1zM797 244h1v1h-1zM798 244h1v1h-1zM799 243h1v1h-1zM800 242h1v1h-1zM801 241h1v1h-1zM802 240h1v1h-1zM803 238h1v2h-1zM804 235h1v3h-1zM805 233h1v2h-1zM806 230h1v3h-1zM807 227h1v3h-1zM808 224h1v3h-1zM809 221h1v3h-1zM810 218h1v3h-1zM811 215h1v3h-1zM812 212h1v3h-1zM813 209h1v3h-1zM814 207h1v2h-1zM815 204h1v3h-1zM816 202h1v2h-1zM817 199h1v3h-1zM818 196h1v3h-1zM819 194h1v2h-1zM820 191h1v3h-1zM821 189h1v2h-1zM822 186h1v3h-1zM823 184h1v2h-1zM824 181h1v3h-1zM825 178h1v3h-1zM826 176h1v2h-1zM827 173h1v3h-1zM828 171h1v2h-1zM829 169h1v2h-1zM830 167h1v2h-1zM831 165h1v2h-1zM832 163h1v2h-1zM833 161h1v2h-1zM834 159h1v2h-1zM835 157h1v2h-1zM836 155h1v2h-1zM837 154h1v1h-1zM838 152h1v2h-1zM839 150h1v2h-1zM840 148h1v2h-1zM841 147h1v1h-1zM842 146h1v1h-1zM843 144h1v2h-1zM844 143h1v1h-1zM845 142h1v1h-1zM846 140h1v2h-1zM847 139h1v1h-1zM848 138h1v1h-1zM849 137h1v1h-1zM850 135h1v2h-1zM851 134h1v1h-1zM852 133h1v1h-1zM853 131h1v2h-1zM854 130h1v1h-1zM855 129h1v1h-1zM856 129h1v1h-1zM857 128h1v1h-1zM858 128h1v1h-1zM859 129h1v2h-1zM860 131h1v1h-1zM861 132h1v1h-1zM862 133h1v2h-1zM863 135h1v1h-1zM864 136h1v1h-1zM865 137h1v1h-1zM866 138h1v1h-1zM867 139h1v1h-1zM868 140h1v1h-1zM869 141h1v1h-1zM870 142h1v1h-1zM871 143h1v1h-1zM872 143h1v1h-1zM873 144h1v1h-1zM874 144h1v1h-1zM875 145h1v1h-1zM876 145h1v1h-1zM877 146h1v1h-1zM878 146h1v1h-1zM879 146h1v1h-1zM880 147h1v1h-1zM881 147h1v1h-1zM882 147h1v1h-1zM883 147h1v1h-1zM884 148h1v1h-1zM885 148h1v1h-1zM886 148h1v1h-1zM887 148h1v1h-1zM888 148h1v1h-1zM889 148h1v1h-1zM890 148h1v1h-1zM891 148h1v1h-1zM892 148h1v1h-1zM893 148h1v1h-1zM894 148h1v1h-1zM895 149h1v1h-1zM896 149h1v1h-1zM897 149h1v1h-1zM898 149h1v1h-1zM899 150h1v1h-1zM900 150h1v1h-1zM901 150h1v1h-1zM902 150h1v1h-1zM903 151h1v1h-1zM904 151h1v1h-1zM905 151h1v1h-1zM906 151h1v1h-1zM907 151h1v1h-1zM908 152h1v1h-1zM909 152h1v1h-1zM910 152h1v1h-1zM911 152h1v1h-1zM912 151h1v1h-1zM913 151h1v1h-1zM914 151h1v1h-1zM915 151h1v1h-1zM916 150h1v1h-1zM917 150h1v1h-1zM918 150h1v1h-1zM919 149h1v1h-1zM920 149h1v1h-1zM921 148h1v1h-1zM922 148h1v1h-1zM923 147h1v1h-1zM924 146h1v1h-1zM925 146h1v1h-1zM926 145h1v1h-1z" fill="#ff0000" shape-rendering="crispEdges" />
</g>
<clipPath id="cm"><rect x="6" y="27" width="1162" height="365"/></clipPath>
<g clip-path="url(#cm)" shape-rendering="crispEdges">
<rect x="6" y="281" width="1" height="10" fill="#ff0000"/>
<rect x="5" y="284" width="3" height="5" fill="#ff0000"/>
<rect x="10" y="279" width="1" height="7" fill="#ff0000"/>
<rect x="9" y="281" width="3" height="4" fill="#ff0000"/>
<rect x="14" y="281" width="1" height="7" fill="#ff0000"/>
<rect x="13" y="284" width="3" height="2" fill="#ff0000"/>
<rect x="18" y="277" width="1" height="40" fill="#32cd32"/>
<rect x="17" y="284" width="3" height="33" fill="#32cd32"/>
<rect x="22" y="304" width="1" height="20" fill="#32cd32"/>
<rect x="21" y="317" width="3" height="3" fill="#32cd32"/>
<rect x="26" y="317" width="1" height="43" fill="#32cd32"/>
<rect x="25" y="319" width="3" height="29" fill="#32cd32"/>
<rect x="30" y="331" width="1" height="40" fill="#ff0000"/>
<rect x="29" y="344" width="3" height="4" fill="#ff0000"/>
<rect x="34" y="326" width="1" height="27" fill="#ff0000"/>
<rect x="33" y="335" width="3" height="17" fill="#ff0000"/>
<rect x="38" y="323" width="1" height="26" fill="#ff0000"/>
<rect x="37" y="326" width="3" height="9" fill="#ff0000"/>
<rect x="42" y="322" width="1" height="21" fill="#32cd32"/>
<rect x="41" y="326" width="3" height="6" fill="#32cd32"/>
<rect x="46" y="324" width="1" height="16" fill="#32cd32"/>
<rect x="45" y="326" width="3" height="12" fill="#32cd32"/>
<rect x="50" y="332" width="1" height="16" fill="#32cd32"/>
<rect x="49" y="338" width="3" height="2" fill="#32cd32"/>
<rect x="54" y="345" width="1" height="39" fill="#ff0000"/>
<rect x="53" y="351" width="3" height="32" fill="#ff0000"/>
<rect x="58" y="323" width="1" height="35" fill="#ff0000"/>
<rect x="57" y="327" width="3" height="24" fill="#ff0000"/>
<rect x="62" y="312" width="1" height="19" fill="#32cd32"/>
<rect x="61" y="328" width="3" height="1" fill="#32cd32"/>
<rect x="66" y="328" width="1" height="12" fill="#32cd32"/>
<rect x="65" y="328" width="3" height="9" fill="#32cd32"/>
<rect x="70" y="313" width="1" height="25" fill="#ff0000"/>
<rect x="69" y="317" width="3" height="20" fill="#ff0000"/>
<rect x="74" y="314" width="1" height="14" fill="#32cd32"/>
<rect x="73" y="316" width="3" height="7" fill="#32cd32"/>
<rect x="78" y="316" width="1" height="13" fill="#ff0000"/>
<rect x="77" y="318" width="3" height="4" fill="#ff0000"/>
<rect x="82" y="317" width="1" height="26" fill="#32cd32"/>
<rect x="81" y="318" width="3" height="20" fill="#32cd32"/>
<rect x="86" y="333" width="1" height="16" fill="#ff0000"/>
<rect x="85" y="333" width="3" height="5" fill="#ff0000"/>
<rect x="90" y="326" width="1" height="13" fill="#ff0000"/>
<rect x="89" y="332" width="3" height="1" fill="#ff0000"/>
<rect x="94" y="325" width="1" height="15" fill="#32cd32"/>
<rect x="93" y="330" width="3" height="6" fill="#32cd32"/>
<rect x="98" y="328" width="1" height="13" fill="#ff0000"/>
<rect x="97" y="328" width="3" height="8" fill="#ff0000"/>
<rect x="102" y="327" width="1" height="11" fill="#32cd32"/>
<rect x="101" y="328" width="3" height="5" fill="#32cd32"/>
<rect x="106" y="325" width="1" height="16" fill="#32cd32"/>
<rect x="105" y="332" width="3" height="6" fill="#32cd32"/>
<rect x="110" y="326" width="1" height="12" fill="#ff0000"/>
<rect x="109" y="328" width="3" height="8" fill="#ff0000"/>
<rect x="114" y="327" width="1" height="8" fill="#ff0000"/>
<rect x="113" y="328" width="3" height="6" fill="#ff0000"/>
<rect x="118" y="325" width="1" height="7" fill="#ff0000"/>
<rect x="117" y="327" width="3" height="3" fill="#ff0000"/>
<rect x="122" y="325" width="1" height="15" fill="#32cd32"/>
<rect x="121" y="326" width="3" height="10" fill="#32cd32"/>
<rect x="126" y="333" width="1" height="10" fill="#32cd32"/>
<rect x="125" y="336" width="3" height="2" fill="#32cd32"/>
<rect x="130" y="328" width="1" height="11" fill="#ff0000"/>
<rect x="129" y="329" width="3" height="9" fill="#ff0000"/>
<rect x="134" y="313" width="1" height="21" fill="#ff0000"/>
<rect x="133" y="319" width="3" height="12" fill="#ff0000"/>
<rect x="138" y="318" width="1" height="11" fill="#32cd32"/>
<rect x="137" y="319" width="3" height="3" fill="#32cd32"/>
<rect x="142" y="299" width="1" height="28" fill="#ff0000"/>
<rect x="141" y="302" width="3" height="20" fill="#ff0000"/>
<rect x="146" y="247" width="1" height="58" fill="#ff0000"/>
<rect x="145" y="248" width="3" height="56" fill="#ff0000"/>
<rect x="150" y="242" width="1" height="26" fill="#ff0000"/>
<rect x="149" y="242" width="3" height="8" fill="#ff0000"/>
<rect x="154" y="100" width="1" height="145" fill="#ff0000"/>
<rect x="153" y="100" width="3" height="138" fill="#ff0000"/>
<rect x="158" y="100" width="1" height="84" fill="#32cd32"/>
<rect x="157" y="100" width="3" height="76" fill="#32cd32"/>
<rect x="162" y="134" width="1" height="43" fill="#ff0000"/>
<rect x="161" y="144" width="3" height="32" fill="#ff0000"/>
<rect x="166" y="129" width="1" height="38" fill="#32cd32"/>
<rect x="165" y="145" width="3" height="3" fill="#32cd32"/>
<rect x="170" y="124" width="1" height="34" fill="#ff0000"/>
<rect x="169" y="136" width="3" height="12" fill="#ff0000"/>
<rect x="174" y="120" width="1" height="23" fill="#32cd32"/>
<rect x="173" y="129" width="3" height="3" fill="#32cd32"/>
<rect x="178" y="125" width="1" height="109" fill="#32cd32"/>
<rect x="177" y="133" width="3" height="75" fill="#32cd32"/>
<rect x="182" y="172" width="1" height="37" fill="#ff0000"/>
<rect x="181" y="178" width="3" height="31" fill="#ff0000"/>
<rect x="186" y="163" width="1" height="33" fill="#32cd32"/>
<rect x="185" y="172" width="3" height="2" fill="#32cd32"/>
<rect x="190" y="169" width="1" height="15" fill="#32cd32"/>
<rect x="189" y="176" width="3" height="2" fill="#32cd32"/>
<rect x="194" y="153" width="1" height="34" fill="#ff0000"/>
<rect x="193" y="156" width="3" height="28" fill="#ff0000"/>
<rect x="198" y="153" width="1" height="10" fill="#32cd32"/>
<rect x="197" y="156" width="3" height="1" fill="#32cd32"/>
<rect x="202" y="156" width="1" height="16" fill="#32cd32"/>
<rect x="201" y="157" width="3" height="5" fill="#32cd32"/>
<rect x="206" y="132" width="1" height="30" fill="#ff0000"/>
<rect x="205" y="141" width="3" height="21" fill="#ff0000"/>
<rect x="210" y="100" width="1" height="48" fill="#ff0000"/>
<rect x="209" y="100" width="3" height="42" fill="#ff0000"/>
<rect x="230" y="66" width="1" height="29" fill="#ff0000"/>
<rect x="229" y="69" width="3" height="24" fill="#ff0000"/>
<rect x="234" y="44" width="1" height="30" fill="#ff0000"/>
<rect x="233" y="48" width="3" height="15" fill="#ff0000"/>
<rect x="238" y="47" width="1" height="19" fill="#32cd32"/>
<rect x="237" y="47" width="3" height="17" fill="#32cd32"/>
<rect x="242" y="61" width="1" height="32" fill="#32cd32"/>
<rect x="241" y="62" width="3" height="29" fill="#32cd32"/>
<rect x="246" y="85" width="1" height="27" fill="#32cd32"/>
<rect x="245" y="90" width="3" height="7" fill="#32cd32"/>
<rect x="250" y="85" width="1" height="51" fill="#32cd32"/>
<rect x="249" y="95" width="3" height="36" fill="#32cd32"/>
<rect x="254" y="102" width="1" height="22" fill="#ff0000"/>
<rect x="253" y="114" width="3" height="9" fill="#ff0000"/>
<rect x="258" y="113" width="1" height="17" fill="#32cd32"/>
<rect x="257" y="115" width="3" height="8" fill="#32cd32"/>
<rect x="262" y="113" width="1" height="31" fill="#32cd32"/>
<rect x="261" y="122" width="3" height="19" fill="#32cd32"/>
<rect x="266" y="134" width="1" height="41" fill="#32cd32"/>
<rect x="265" y="140" width="3" height="28" fill="#32cd32"/>
<rect x="270" y="160" width="1" height="34" fill="#32cd32"/>
<rect x="269" y="162" width="3" height="22" fill="#32cd32"/>
<rect x="274" y="158" width="1" height="24" fill="#ff0000"/>
<rect x="273" y="165" width="3" height="14" fill="#ff0000"/>
<rect x="278" y="135" width="1" height="33" fill="#ff0000"/>
<rect x="277" y="147" width="3" height="19" fill="#ff0000"/>
<rect x="282" y="135" width="1" height="23" fill="#ff0000"/>
<rect x="281" y="144" width="3" height="3" fill="#ff0000"/>
<rect x="286" y="127" width="1" height="19" fill="#ff0000"/>
<rect x="285" y="131" width="3" height="14" fill="#ff0000"/>
<rect x="290" y="104" width="1" height="50" fill="#ff0000"/>
<rect x="289" y="117" width="3" height="16" fill="#ff0000"/>
<rect x="294" y="108" width="1" height="26" fill="#32cd32"/>
<rect x="293" y="124" width="3" height="6" fill="#32cd32"/>
<rect x="298" y="114" width="1" height="19" fill="#32cd32"/>
<rect x="297" y="118" width="3" height="10" fill="#32cd32"/>
<rect x="302" y="100" width="1" height="29" fill="#ff0000"/>
<rect x="301" y="107" width="3" height="21" fill="#ff0000"/>
<rect x="306" y="100" width="1" height="17" fill="#32cd32"/>
<rect x="305" y="107" width="3" height="3" fill="#32cd32"/>
<rect x="310" y="84" width="1" height="34" fill="#ff0000"/>
<rect x="309" y="89" width="3" height="27" fill="#ff0000"/>
<rect x="314" y="85" width="1" height="31" fill="#ff0000"/>
<rect x="313" y="93" width="3" height="6" fill="#ff0000"/>
<rect x="318" y="80" width="1" height="25" fill="#ff0000"/>
<rect x="317" y="89" width="3" height="5" fill="#ff0000"/>
<rect x="322" y="78" width="1" height="16" fill="#32cd32"/>
<rect x="321" y="89" width="3" height="3" fill="#32cd32"/>
<rect x="326" y="87" width="1" height="24" fill="#32cd32"/>
<rect x="325" y="90" width="3" height="17" fill="#32cd32"/>
<rect x="330" y="104" width="1" height="23" fill="#32cd32"/>
<rect x="329" y="106" width="3" height="19" fill="#32cd32"/>
<rect x="334" y="96" width="1" height="16" fill="#ff0000"/>
<rect x="333" y="100" width="3" height="8" fill="#ff0000"/>
<rect x="338" y="70" width="1" height="38" fill="#ff0000"/>
<rect x="337" y="77" width="3" height="30" fill="#ff0000"/>
<rect x="342" y="70" width="1" height="14" fill="#32cd32"/>
<rect x="341" y="77" width="3" height="4" fill="#32cd32"/>
<rect x="346" y="79" width="1" height="54" fill="#32cd32"/>
<rect x="345" y="81" width="3" height="49" fill="#32cd32"/>
<rect x="350" y="124" width="1" height="30" fill="#32cd32"/>
<rect x="349" y="129" width="3" height="24" fill="#32cd32"/>
<rect x="354" y="138" width="1" height="39" fill="#32cd32"/>
<rect x="353" y="154" width="3" height="4" fill="#32cd32"/>
<rect x="358" y="142" width="1" height="24" fill="#ff0000"/>
<rect x="357" y="145" width="3" height="13" fill="#ff0000"/>
<rect x="362" y="120" width="1" height="27" fill="#ff0000"/>
<rect x="361" y="128" width="3" height="17" fill="#ff0000"/>
<rect x="366" y="124" width="1" height="37" fill="#32cd32"/>
<rect x="365" y="128" width="3" height="22" fill="#32cd32"/>
<rect x="370" y="143" width="1" height="19" fill="#32cd32"/>
<rect x="369" y="149" width="3" height="7" fill="#32cd32"/>
<rect x="374" y="155" width="1" height="11" fill="#32cd32"/>
<rect x="373" y="157" width="3" height="1" fill="#32cd32"/>
<rect x="378" y="146" width="1" height="17" fill="#ff0000"/>
<rect x="377" y="155" width="3" height="3" fill="#ff0000"/>
<rect x="382" y="144" width="1" height="24" fill="#32cd32"/>
<rect x="381" y="155" width="3" height="7" fill="#32cd32"/>
<rect x="386" y="154" width="1" height="20" fill="#ff0000"/>
<rect x="385" y="155" width="3" height="11" fill="#ff0000"/>
<rect x="390" y="154" width="1" height="23" fill="#32cd32"/>
<rect x="389" y="155" width="3" height="20" fill="#32cd32"/>
<rect x="394" y="162" width="1" height="17" fill="#ff0000"/>
<rect x="393" y="164" width="3" height="15" fill="#ff0000"/>
<rect x="398" y="161" width="1" height="11" fill="#ff0000"/>
<rect x="397" y="163" width="3" height="2" fill="#ff0000"/>
<rect x="402" y="158" width="1" height="26" fill="#32cd32"/>
<rect x="401" y="162" width="3" height="18" fill="#32cd32"/>
<rect x="406" y="173" width="1" height="23" fill="#ff0000"/>
<rect x="405" y="179" width="3" height="2" fill="#ff0000"/>
<rect x="410" y="175" width="1" height="15" fill="#32cd32"/>
<rect x="409" y="180" width="3" height="6" fill="#32cd32"/>
<rect x="414" y="185" width="1" height="18" fill="#32cd32"/>
<rect x="413" y="189" width="3" height="11" fill="#32cd32"/>
<rect x="418" y="190" width="1" height="45" fill="#32cd32"/>
<rect x="417" y="198" width="3" height="23" fill="#32cd32"/>
<rect x="422" y="204" width="1" height="32" fill="#ff0000"/>
<rect x="421" y="210" width="3" height="11" fill="#ff0000"/>
<rect x="426" y="203" width="1" height="63" fill="#32cd32"/>
<rect x="425" y="209" width="3" height="38" fill="#32cd32"/>
<rect x="430" y="220" width="1" height="35" fill="#ff0000"/>
<rect x="429" y="231" width="3" height="16" fill="#ff0000"/>
<rect x="434" y="209" width="1" height="25" fill="#ff0000"/>
<rect x="433" y="215" width="3" height="19" fill="#ff0000"/>
<rect x="438" y="200" width="1" height="29" fill="#ff0000"/>
<rect x="437" y="202" width="3" height="16" fill="#ff0000"/>
<rect x="442" y="188" width="1" height="16" fill="#ff0000"/>
<rect x="441" y="197" width="3" height="6" fill="#ff0000"/>
<rect x="446" y="194" width="1" height="15" fill="#32cd32"/>
<rect x="445" y="196" width="3" height="12" fill="#32cd32"/>
<rect x="450" y="206" width="1" height="15" fill="#32cd32"/>
<rect x="449" y="208" width="3" height="12" fill="#32cd32"/>
<rect x="454" y="192" width="1" height="22" fill="#ff0000"/>
<rect x="453" y="201" width="3" height="11" fill="#ff0000"/>
<rect x="458" y="191" width="1" height="13" fill="#ff0000"/>
<rect x="457" y="192" width="3" height="9" fill="#ff0000"/>
<rect x="462" y="178" width="1" height="17" fill="#ff0000"/>
<rect x="461" y="179" width="3" height="15" fill="#ff0000"/>
<rect x="466" y="174" width="1" height="27" fill="#32cd32"/>
<rect x="465" y="180" width="3" height="12" fill="#32cd32"/>
<rect x="470" y="179" width="1" height="19" fill="#ff0000"/>
<rect x="469" y="182" width="3" height="12" fill="#ff0000"/>
<rect x="474" y="186" width="1" height="12" fill="#32cd32"/>
<rect x="473" y="189" width="3" height="7" fill="#32cd32"/>
<rect x="478" y="186" width="1" height="28" fill="#32cd32"/>
<rect x="477" y="197" width="3" height="11" fill="#32cd32"/>
<rect x="482" y="195" width="1" height="16" fill="#ff0000"/>
<rect x="481" y="199" width="3" height="9" fill="#ff0000"/>
<rect x="486" y="189" width="1" height="21" fill="#ff0000"/>
<rect x="485" y="194" width="3" height="9" fill="#ff0000"/>
<rect x="490" y="189" width="1" height="10" fill="#ff0000"/>
<rect x="489" y="193" width="3" height="4" fill="#ff0000"/>
<rect x="494" y="181" width="1" height="16" fill="#ff0000"/>
<rect x="493" y="184" width="3" height="11" fill="#ff0000"/>
<rect x="498" y="143" width="1" height="46" fill="#ff0000"/>
<rect x="497" y="160" width="3" height="24" fill="#ff0000"/>
<rect x="502" y="148" width="1" height="33" fill="#32cd32"/>
<rect x="501" y="162" width="3" height="13" fill="#32cd32"/>
<rect x="506" y="170" width="1" height="18" fill="#32cd32"/>
<rect x="505" y="174" width="3" height="13" fill="#32cd32"/>
<rect x="510" y="177" width="1" height="27" fill="#32cd32"/>
<rect x="509" y="186" width="3" height="17" fill="#32cd32"/>
<rect x="514" y="186" width="1" height="13" fill="#ff0000"/>
<rect x="513" y="188" width="3" height="9" fill="#ff0000"/>
<rect x="518" y="186" width="1" height="14" fill="#32cd32"/>
<rect x="517" y="188" width="3" height="9" fill="#32cd32"/>
<rect x="522" y="186" width="1" height="13" fill="#ff0000"/>
<rect x="521" y="192" width="3" height="5" fill="#ff0000"/>
<rect x="526" y="184" width="1" height="111" fill="#32cd32"/>
<rect x="525" y="195" width="3" height="83" fill="#32cd32"/>
<rect x="530" y="220" width="1" height="58" fill="#ff0000"/>
<rect x="529" y="220" width="3" height="58" fill="#ff0000"/>
<rect x="534" y="215" width="1" height="19" fill="#32cd32"/>
<rect x="533" y="218" width="3" height="10" fill="#32cd32"/>
<rect x="538" y="220" width="1" height="12" fill="#ff0000"/>
<rect x="537" y="227" width="3" height="1" fill="#ff0000"/>
<rect x="542" y="216" width="1" height="13" fill="#ff0000"/>
<rect x="541" y="220" width="3" height="8" fill="#ff0000"/>
<rect x="546" y="215" width="1" height="17" fill="#32cd32"/>
<rect x="545" y="218" width="3" height="6" fill="#32cd32"/>
<rect x="550" y="211" width="1" height="16" fill="#ff0000"/>
<rect x="549" y="222" width="3" height="4" fill="#ff0000"/>
<rect x="554" y="211" width="1" height="13" fill="#ff0000"/>
<rect x="553" y="214" width="3" height="8" fill="#ff0000"/>
<rect x="558" y="210" width="1" height="12" fill="#32cd32"/>
<rect x="557" y="215" width="3" height="6" fill="#32cd32"/>
<rect x="562" y="226" width="1" height="4" fill="#ff0000"/>
<rect x="561" y="227" width="3" height="2" fill="#ff0000"/>
<rect x="566" y="222" width="1" height="13" fill="#32cd32"/>
<rect x="565" y="228" width="3" height="1" fill="#32cd32"/>
<rect x="570" y="224" width="1" height="9" fill="#32cd32"/>
<rect x="569" y="229" width="3" height="2" fill="#32cd32"/>
<rect x="574" y="228" width="1" height="17" fill="#32cd32"/>
<rect x="573" y="229" width="3" height="10" fill="#32cd32"/>
<rect x="578" y="236" width="1" height="28" fill="#32cd32"/>
<rect x="577" y="238" width="3" height="24" fill="#32cd32"/>
<rect x="582" y="254" width="1" height="6" fill="#32cd32"/>
<rect x="581" y="255" width="3" height="3" fill="#32cd32"/>
<rect x="586" y="248" width="1" height="16" fill="#32cd32"/>
<rect x="585" y="256" width="3" height="5" fill="#32cd32"/>
<rect x="590" y="244" width="1" height="20" fill="#ff0000"/>
<rect x="589" y="256" width="3" height="5" fill="#ff0000"/>
<rect x="594" y="242" width="1" height="14" fill="#ff0000"/>
<rect x="593" y="250" width="3" height="4" fill="#ff0000"/>
<rect x="598" y="249" width="1" height="38" fill="#32cd32"/>
<rect x="597" y="250" width="3" height="20" fill="#32cd32"/>
<rect x="602" y="255" width="1" height="32" fill="#32cd32"/>
<rect x="601" y="270" width="3" height="13" fill="#32cd32"/>
<rect x="606" y="280" width="1" height="18" fill="#32cd32"/>
<rect x="605" y="282" width="3" height="8" fill="#32cd32"/>
<rect x="610" y="282" width="1" height="23" fill="#32cd32"/>
<rect x="609" y="290" width="3" height="14" fill="#32cd32"/>
<rect x="614" y="299" width="1" height="34" fill="#32cd32"/>
<rect x="613" y="301" width="3" height="32" fill="#32cd32"/>
<rect x="618" y="310" width="1" height="35" fill="#ff0000"/>
<rect x="617" y="311" width="3" height="20" fill="#ff0000"/>
<rect x="622" y="308" width="1" height="20" fill="#32cd32"/>
<rect x="621" y="311" width="3" height="14" fill="#32cd32"/>
<rect x="626" y="318" width="1" height="21" fill="#32cd32"/>
<rect x="625" y="324" width="3" height="12" fill="#32cd32"/>
<rect x="630" y="328" width="1" height="24" fill="#32cd32"/>
<rect x="629" y="335" width="3" height="10" fill="#32cd32"/>
<rect x="634" y="335" width="1" height="27" fill="#ff0000"/>
<rect x="633" y="340" width="3" height="4" fill="#ff0000"/>
<rect x="638" y="300" width="1" height="43" fill="#ff0000"/>
<rect x="637" y="306" width="3" height="35" fill="#ff0000"/>
<rect x="642" y="295" width="1" height="22" fill="#ff0000"/>
<rect x="641" y="301" width="3" height="7" fill="#ff0000"/>
<rect x="646" y="275" width="1" height="29" fill="#ff0000"/>
<rect x="645" y="287" width="3" height="16" fill="#ff0000"/>
<rect x="650" y="277" width="1" height="17" fill="#ff0000"/>
<rect x="649" y="282" width="3" height="6" fill="#ff0000"/>
<rect x="654" y="231" width="1" height="38" fill="#ff0000"/>
<rect x="653" y="240" width="3" height="22" fill="#ff0000"/>
<rect x="658" y="234" width="1" height="26" fill="#32cd32"/>
<rect x="657" y="240" width="3" height="19" fill="#32cd32"/>
<rect x="662" y="246" width="1" height="20" fill="#ff0000"/>
<rect x="661" y="250" width="3" height="9" fill="#ff0000"/>
<rect x="666" y="228" width="1" height="23" fill="#ff0000"/>
<rect x="665" y="234" width="3" height="16" fill="#ff0000"/>
<rect x="670" y="216" width="1" height="22" fill="#ff0000"/>
<rect x="669" y="224" width="3" height="10" fill="#ff0000"/>
<rect x="674" y="201" width="1" height="37" fill="#ff0000"/>
<rect x="673" y="210" width="3" height="21" fill="#ff0000"/>
<rect x="678" y="201" width="1" height="36" fill="#32cd32"/>
<rect x="677" y="210" width="3" height="20" fill="#32cd32"/>
<rect x="682" y="213" width="1" height="43" fill="#32cd32"/>
<rect x="681" y="228" width="3" height="17" fill="#32cd32"/>
<rect x="686" y="242" width="1" height="19" fill="#ff0000"/>
<rect x="685" y="243" width="3" height="2" fill="#ff0000"/>
<rect x="690" y="214" width="1" height="33" fill="#ff0000"/>
<rect x="689" y="214" width="3" height="30" fill="#ff0000"/>
<rect x="694" y="213" width="1" height="34" fill="#32cd32"/>
<rect x="693" y="214" width="3" height="30" fill="#32cd32"/>
<rect x="698" y="239" width="1" height="17" fill="#32cd32"/>
<rect x="697" y="242" width="3" height="9" fill="#32cd32"/>
<rect x="702" y="230" width="1" height="31" fill="#ff0000"/>
<rect x="701" y="234" width="3" height="17" fill="#ff0000"/>
<rect x="706" y="231" width="1" height="13" fill="#32cd32"/>
<rect x="705" y="233" width="3" height="5" fill="#32cd32"/>
<rect x="710" y="225" width="1" height="12" fill="#ff0000"/>
<rect x="709" y="227" width="3" height="9" fill="#ff0000"/>
<rect x="714" y="228" width="1" height="17" fill="#ff0000"/>
<rect x="713" y="233" width="3" height="5" fill="#ff0000"/>
<rect x="718" y="211" width="1" height="25" fill="#ff0000"/>
<rect x="717" y="220" width="3" height="15" fill="#ff0000"/>
<rect x="722" y="207" width="1" height="18" fill="#ff0000"/>
<rect x="721" y="214" width="3" height="7" fill="#ff0000"/>
<rect x="726" y="172" width="1" height="43" fill="#ff0000"/>
<rect x="725" y="178" width="3" height="36" fill="#ff0000"/>
<rect x="730" y="170" width="1" height="23" fill="#ff0000"/>
<rect x="729" y="178" width="3" height="12" fill="#ff0000"/>
<rect x="734" y="170" width="1" height="27" fill="#32cd32"/>
<rect x="733" y="171" width="3" height="25" fill="#32cd32"/>
<rect x="738" y="188" width="1" height="23" fill="#32cd32"/>
<rect x="737" y="193" width="3" height="9" fill="#32cd32"/>
<rect x="742" y="188" width="1" height="20" fill="#32cd32"/>
<rect x="741" y="200" width="3" height="6" fill="#32cd32"/>
<rect x="746" y="195" width="1" height="33" fill="#32cd32"/>
<rect x="745" y="203" width="3" height="15" fill="#32cd32"/>
<rect x="750" y="208" width="1" height="31" fill="#32cd32"/>
<rect x="749" y="215" width="3" height="23" fill="#32cd32"/>
<rect x="754" y="231" width="1" height="37" fill="#32cd32"/>
<rect x="753" y="236" width="3" height="28" fill="#32cd32"/>
<rect x="758" y="232" width="1" height="47" fill="#32cd32"/>
<rect x="757" y="262" width="3" height="9" fill="#32cd32"/>
<rect x="762" y="264" width="1" height="34" fill="#32cd32"/>
<rect x="761" y="271" width="3" height="25" fill="#32cd32"/>
<rect x="766" y="275" width="1" height="21" fill="#ff0000"/>
<rect x="765" y="278" width="3" height="15" fill="#ff0000"/>
<rect x="770" y="257" width="1" height="36" fill="#32cd32"/>
<rect x="769" y="278" width="3" height="5" fill="#32cd32"/>
<rect x="774" y="258" width="1" height="52" fill="#ff0000"/>
<rect x="773" y="269" width="3" height="27" fill="#ff0000"/>
<rect x="778" y="252" width="1" height="32" fill="#ff0000"/>
<rect x="777" y="261" width="3" height="8" fill="#ff0000"/>
<rect x="782" y="240" width="1" height="22" fill="#ff0000"/>
<rect x="781" y="244" width="3" height="17" fill="#ff0000"/>
<rect x="786" y="184" width="1" height="65" fill="#ff0000"/>
<rect x="785" y="198" width="3" height="46" fill="#ff0000"/>
<rect x="790" y="175" width="1" height="58" fill="#ff0000"/>
<rect x="789" y="215" width="3" height="12" fill="#ff0000"/>
<rect x="794" y="194" width="1" height="27" fill="#ff0000"/>
<rect x="793" y="212" width="3" height="8" fill="#ff0000"/>
<rect x="798" y="182" width="1" height="47" fill="#ff0000"/>
<rect x="797" y="200" width="3" height="11" fill="#ff0000"/>
<rect x="802" y="139" width="1" height="67" fill="#ff0000"/>
<rect x="801" y="165" width="3" height="34" fill="#ff0000"/>
<rect x="806" y="72" width="1" height="96" fill="#ff0000"/>
<rect x="805" y="79" width="3" height="87" fill="#ff0000"/>
<rect x="810" y="77" width="1" height="85" fill="#32cd32"/>
<rect x="809" y="81" width="3" height="21" fill="#32cd32"/>
<rect x="814" y="84" width="1" height="57" fill="#32cd32"/>
<rect x="813" y="99" width="3" height="23" fill="#32cd32"/>
<rect x="818" y="120" width="1" height="40" fill="#32cd32"/>
<rect x="817" y="122" width="3" height="35" fill="#32cd32"/>
<rect x="822" y="93" width="1" height="76" fill="#ff0000"/>
<rect x="821" y="108" width="3" height="49" fill="#ff0000"/>
<rect x="826" y="95" width="1" height="56" fill="#32cd32"/>
<rect x="825" y="108" width="3" height="39" fill="#32cd32"/>
<rect x="830" y="114" width="1" height="48" fill="#ff0000"/>
<rect x="829" y="144" width="3" height="3" fill="#ff0000"/>
<rect x="834" y="111" width="1" height="31" fill="#ff0000"/>
<rect x="833" y="122" width="3" height="19" fill="#ff0000"/>
<rect x="838" y="118" width="1" height="32" fill="#32cd32"/>
<rect x="837" y="120" width="3" height="20" fill="#32cd32"/>
<rect x="842" y="101" width="1" height="40" fill="#ff0000"/>
<rect x="841" y="110" width="3" height="30" fill="#ff0000"/>
<rect x="846" y="93" width="1" height="46" fill="#32cd32"/>
<rect x="845" y="110" width="3" height="28" fill="#32cd32"/>
<rect x="850" y="113" width="1" height="26" fill="#ff0000"/>
<rect x="849" y="122" width="3" height="16" fill="#ff0000"/>
<rect x="854" y="115" width="1" height="18" fill="#32cd32"/>
<rect x="853" y="116" width="3" height="13" fill="#32cd32"/>
<rect x="858" y="125" width="1" height="53" fill="#32cd32"/>
<rect x="857" y="126" width="3" height="35" fill="#32cd32"/>
<rect x="862" y="150" width="1" height="20" fill="#32cd32"/>
<rect x="861" y="161" width="3" height="3" fill="#32cd32"/>
<rect x="866" y="154" width="1" height="26" fill="#32cd32"/>
<rect x="865" y="161" width="3" height="9" fill="#32cd32"/>
<rect x="870" y="172" width="1" height="8" fill="#ff0000"/>
<rect x="869" y="174" width="3" height="5" fill="#ff0000"/>
<rect x="874" y="161" width="1" height="25" fill="#32cd32"/>
<rect x="873" y="174" width="3" height="8" fill="#32cd32"/>
<rect x="878" y="144" width="1" height="40" fill="#ff0000"/>
<rect x="877" y="153" width="3" height="30" fill="#ff0000"/>
<rect x="882" y="138" width="1" height="20" fill="#ff0000"/>
<rect x="881" y="145" width="3" height="8" fill="#ff0000"/>
<rect x="886" y="139" width="1" height="21" fill="#ff0000"/>
<rect x="885" y="144" width="3" height="9" fill="#ff0000"/>
<rect x="890" y="138" width="1" height="15" fill="#ff0000"/>
<rect x="889" y="147" width="3" height="3" fill="#ff0000"/>
<rect x="894" y="122" width="1" height="26" fill="#ff0000"/>
<rect x="893" y="124" width="3" height="23" fill="#ff0000"/>
<rect x="898" y="127" width="1" height="18" fill="#32cd32"/>
<rect x="897" y="130" width="3" height="11" fill="#32cd32"/>
<rect x="902" y="127" width="1" height="23" fill="#32cd32"/>
<rect x="901" y="130" width="3" height="8" fill="#32cd32"/>
<rect x="906" y="131" width="1" height="17" fill="#ff0000"/>
<rect x="905" y="135" width="3" height="8" fill="#ff0000"/>
<rect x="910" y="136" width="1" height="17" fill="#ff0000"/>
<rect x="909" y="139" width="3" height="6" fill="#ff0000"/>
<rect x="914" y="133" width="1" height="21" fill="#32cd32"/>
<rect x="913" y="139" width="3" height="8" fill="#32cd32"/>
<rect x="918" y="143" width="1" height="15" fill="#32cd32"/>
<rect x="917" y="145" width="3" height="12" fill="#32cd32"/>
<rect x="922" y="136" width="1" height="39" fill="#ff0000"/>
<rect x="921" y="139" width="3" height="18" fill="#ff0000"/>
<rect x="926" y="105" width="1" height="35" fill="#ff0000"/>
<rect x="925" y="105" width="3" height="35" fill="#ff0000"/>
</g>
<path d="M9.5,37 L16,37 L12.75,33 Z" fill="#000"/>
<text x="21" y="37.3" font-size="9.5" fill="#000" stroke="#000" stroke-width="0.1" textLength="69.3" lengthAdjust="spacingAndGlyphs">USDCNH-,Daily</text>
<text x="95.8" y="37.3" font-size="9.5" fill="#000" stroke="#000" stroke-width="0.1" textLength="141.5" lengthAdjust="spacingAndGlyphs">7.09001 7.12879 7.08993 7.12803</text>
<rect x="7" y="44" width="223" height="68" fill="#ffffff"/>
<rect x="9" y="46" width="52" height="25" fill="#c00000"/>
<rect x="10" y="47" width="50" height="24" fill="url(#gTab)"/>
<rect x="176" y="46" width="52" height="25" fill="#c00000"/>
<rect x="177" y="47" width="50" height="24" fill="url(#gTab)"/>
<rect x="9" y="70" width="109" height="40" fill="#b00000"/>
<rect x="10" y="71" width="107" height="38" fill="url(#gPan)"/>
<rect x="120" y="70" width="108" height="40" fill="#b00000"/>
<rect x="121" y="71" width="106" height="38" fill="url(#gPan)"/>
<rect x="10" y="69" width="50" height="3" fill="#dc2a2a"/>
<rect x="177" y="69" width="50" height="3" fill="#dc2a2a"/>
<rect x="13" y="69" width="44" height="1" fill="#8b0000"/><rect x="13" y="70" width="44" height="1" fill="#ee6a6a"/>
<rect x="180" y="69" width="44" height="1" fill="#8b0000"/><rect x="180" y="70" width="44" height="1" fill="#ee6a6a"/>
<rect x="61" y="46" width="115" height="24" fill="#ffffff"/>
<rect x="61" y="70" width="115" height="1" fill="#b00000"/>
<rect x="63.5" y="46.5" width="110" height="21" fill="#fff" stroke="#a8acb4" stroke-width="1"/>
<rect x="65" y="48" width="18" height="18" fill="url(#gBtn)"/>
<rect x="84" y="47" width="1" height="20" fill="#a8acb4"/>
<rect x="152" y="47" width="1" height="20" fill="#a8acb4"/>
<rect x="154" y="48" width="19" height="18" fill="url(#gBtn)"/>
<path d="M71,55 L76,55 L73.5,58 Z" fill="#4a62d0"/>
<path d="M160.5,58 L165.5,58 L163,55 Z" fill="#4a62d0"/>
<text x="149" y="61.5" font-size="12.5" fill="#000" text-anchor="end">20.00</text>
<text x="20.6" y="62" font-size="12" fill="#fff" textLength="28" lengthAdjust="spacingAndGlyphs">SELL</text>
<text x="188.6" y="62" font-size="12" fill="#fff" textLength="25.6" lengthAdjust="spacingAndGlyphs">BUY</text>
<text x="29" y="100.7" font-size="12" font-weight="bold" fill="#fff">7.12</text>
<text x="57" y="101" style="font-family:Liberation Serif,serif" font-size="35" fill="#fff">80</text>
<text x="96" y="84.8" font-size="11" font-weight="bold" fill="#fff">3</text>
<text x="139" y="100.7" font-size="12" font-weight="bold" fill="#fff">7.13</text>
<text x="168" y="101" style="font-family:Liberation Serif,serif" font-size="35" fill="#fff">04</text>
<text x="207.5" y="84.8" font-size="11" font-weight="bold" fill="#fff">7</text>
<rect x="1169" y="59" width="2" height="1" fill="#000"/>
<text x="1174" y="63" font-size="9.5" fill="#000" stroke="#000" stroke-width="0.25">7.17875</text>
<rect x="1169" y="92" width="2" height="1" fill="#000"/>
<text x="1174" y="96" font-size="9.5" fill="#000" stroke="#000" stroke-width="0.25">7.14200</text>
<rect x="1169" y="125" width="2" height="1" fill="#000"/>
<text x="1174" y="129" font-size="9.5" fill="#000" stroke="#000" stroke-width="0.25">7.10630</text>
<rect x="1169" y="158" width="2" height="1" fill="#000"/>
<text x="1174" y="162" font-size="9.5" fill="#000" stroke="#000" stroke-width="0.25">7.06955</text>
<rect x="1169" y="191" width="2" height="1" fill="#000"/>
<text x="1174" y="195" font-size="9.5" fill="#000" stroke="#000" stroke-width="0.25">7.03280</text>
<rect x="1169" y="224" width="2" height="1" fill="#000"/>
<text x="1174" y="228" font-size="9.5" fill="#000" stroke="#000" stroke-width="0.25">6.99710</text>
<rect x="1169" y="257" width="2" height="1" fill="#000"/>
<text x="1174" y="261" font-size="9.5" fill="#000" stroke="#000" stroke-width="0.25">6.96035</text>
<rect x="1169" y="290" width="2" height="1" fill="#000"/>
<text x="1174" y="294" font-size="9.5" fill="#000" stroke="#000" stroke-width="0.25">6.92360</text>
<rect x="1169" y="323" width="2" height="1" fill="#000"/>
<text x="1174" y="327" font-size="9.5" fill="#000" stroke="#000" stroke-width="0.25">6.88790</text>
<rect x="1169" y="356" width="2" height="1" fill="#000"/>
<text x="1174" y="360" font-size="9.5" fill="#000" stroke="#000" stroke-width="0.25">6.85115</text>
<rect x="1169" y="389" width="2" height="1" fill="#000"/>
<text x="1174" y="393" font-size="9.5" fill="#000" stroke="#000" stroke-width="0.25">6.81545</text>
<rect x="1170" y="33" width="41" height="11" fill="#ff0000"/>
<text x="1174" y="42" font-size="9.5" fill="#fff">7.20040</text>
<rect x="1170" y="100" width="41" height="11" fill="#000000"/>
<text x="1174" y="109" font-size="9.5" fill="#fff">7.12803</text>
<rect x="1170" y="124" width="41" height="11" fill="#ff0000"/>
<text x="1174" y="133" font-size="9.5" fill="#fff">7.10056</text>
<rect x="1170" y="215" width="41" height="11" fill="#00ff00"/>
<text x="1174" y="224" font-size="9.5" fill="#fff">7.00003</text>
<rect x="1170" y="322" width="41" height="11" fill="#0000ff"/>
<text x="1174" y="331" font-size="9.5" fill="#fff">6.88208</text>
<g shape-rendering="crispEdges">
<rect x="5" y="418" width="3" height="17" fill="#c0c0c0"/>
<rect x="9" y="419" width="3" height="16" fill="#c0c0c0"/>
<rect x="13" y="420" width="3" height="15" fill="#c0c0c0"/>
<rect x="17" y="423" width="3" height="12" fill="#c0c0c0"/>
<rect x="21" y="425" width="3" height="10" fill="#c0c0c0"/>
<rect x="25" y="429" width="3" height="6" fill="#c0c0c0"/>
<rect x="29" y="432" width="3" height="3" fill="#c0c0c0"/>
<rect x="33" y="433" width="3" height="2" fill="#c0c0c0"/>
<rect x="37" y="434" width="3" height="1" fill="#c0c0c0"/>
<rect x="41" y="435" width="3" height="1" fill="#c0c0c0"/>
<rect x="45" y="435" width="3" height="1" fill="#c0c0c0"/>
<rect x="49" y="435" width="3" height="1" fill="#c0c0c0"/>
<rect x="53" y="435" width="3" height="2" fill="#c0c0c0"/>
<rect x="57" y="435" width="3" height="4" fill="#c0c0c0"/>
<rect x="61" y="435" width="3" height="4" fill="#c0c0c0"/>
<rect x="65" y="435" width="3" height="4" fill="#c0c0c0"/>
<rect x="69" y="435" width="3" height="2" fill="#c0c0c0"/>
<rect x="73" y="435" width="3" height="2" fill="#c0c0c0"/>
<rect x="77" y="435" width="3" height="2" fill="#c0c0c0"/>
<rect x="81" y="435" width="3" height="2" fill="#c0c0c0"/>
<rect x="85" y="435" width="3" height="2" fill="#c0c0c0"/>
<rect x="89" y="435" width="3" height="2" fill="#c0c0c0"/>
<rect x="93" y="435" width="3" height="2" fill="#c0c0c0"/>
<rect x="97" y="435" width="3" height="2" fill="#c0c0c0"/>
<rect x="101" y="435" width="3" height="2" fill="#c0c0c0"/>
<rect x="105" y="435" width="3" height="2" fill="#c0c0c0"/>
<rect x="109" y="435" width="3" height="2" fill="#c0c0c0"/>
<rect x="113" y="435" width="3" height="2" fill="#c0c0c0"/>
<rect x="117" y="435" width="3" height="2" fill="#c0c0c0"/>
<rect x="121" y="435" width="3" height="2" fill="#c0c0c0"/>
<rect x="125" y="435" width="3" height="2" fill="#c0c0c0"/>
<rect x="129" y="435" width="3" height="2" fill="#c0c0c0"/>
<rect x="133" y="435" width="3" height="2" fill="#c0c0c0"/>
<rect x="137" y="435" width="3" height="1" fill="#c0c0c0"/>
<rect x="141" y="434" width="3" height="1" fill="#c0c0c0"/>
<rect x="145" y="429" width="3" height="6" fill="#c0c0c0"/>
<rect x="149" y="426" width="3" height="9" fill="#c0c0c0"/>
<rect x="153" y="415" width="3" height="20" fill="#c0c0c0"/>
<rect x="157" y="411" width="3" height="24" fill="#c0c0c0"/>
<rect x="161" y="407" width="3" height="28" fill="#c0c0c0"/>
<rect x="165" y="403" width="3" height="32" fill="#c0c0c0"/>
<rect x="169" y="401" width="3" height="34" fill="#c0c0c0"/>
<rect x="173" y="399" width="3" height="36" fill="#c0c0c0"/>
<rect x="177" y="402" width="3" height="33" fill="#c0c0c0"/>
<rect x="181" y="403" width="3" height="32" fill="#c0c0c0"/>
<rect x="185" y="405" width="3" height="30" fill="#c0c0c0"/>
<rect x="189" y="406" width="3" height="29" fill="#c0c0c0"/>
<rect x="193" y="406" width="3" height="29" fill="#c0c0c0"/>
<rect x="197" y="406" width="3" height="29" fill="#c0c0c0"/>
<rect x="201" y="407" width="3" height="28" fill="#c0c0c0"/>
<rect x="205" y="407" width="3" height="28" fill="#c0c0c0"/>
<rect x="209" y="406" width="3" height="29" fill="#c0c0c0"/>
<rect x="213" y="402" width="3" height="33" fill="#c0c0c0"/>
<rect x="217" y="400" width="3" height="35" fill="#c0c0c0"/>
<rect x="221" y="399" width="3" height="36" fill="#c0c0c0"/>
<rect x="225" y="400" width="3" height="35" fill="#c0c0c0"/>
<rect x="229" y="400" width="3" height="35" fill="#c0c0c0"/>
<rect x="233" y="398" width="3" height="37" fill="#c0c0c0"/>
<rect x="237" y="399" width="3" height="36" fill="#c0c0c0"/>
<rect x="241" y="401" width="3" height="34" fill="#c0c0c0"/>
<rect x="245" y="404" width="3" height="31" fill="#c0c0c0"/>
<rect x="249" y="408" width="3" height="27" fill="#c0c0c0"/>
<rect x="253" y="411" width="3" height="24" fill="#c0c0c0"/>
<rect x="257" y="413" width="3" height="22" fill="#c0c0c0"/>
<rect x="261" y="417" width="3" height="18" fill="#c0c0c0"/>
<rect x="265" y="421" width="3" height="14" fill="#c0c0c0"/>
<rect x="269" y="426" width="3" height="9" fill="#c0c0c0"/>
<rect x="273" y="429" width="3" height="6" fill="#c0c0c0"/>
<rect x="277" y="430" width="3" height="5" fill="#c0c0c0"/>
<rect x="281" y="431" width="3" height="4" fill="#c0c0c0"/>
<rect x="285" y="431" width="3" height="4" fill="#c0c0c0"/>
<rect x="289" y="430" width="3" height="5" fill="#c0c0c0"/>
<rect x="293" y="430" width="3" height="5" fill="#c0c0c0"/>
<rect x="297" y="430" width="3" height="5" fill="#c0c0c0"/>
<rect x="301" y="428" width="3" height="7" fill="#c0c0c0"/>
<rect x="305" y="428" width="3" height="7" fill="#c0c0c0"/>
<rect x="309" y="427" width="3" height="8" fill="#c0c0c0"/>
<rect x="313" y="426" width="3" height="9" fill="#c0c0c0"/>
<rect x="317" y="425" width="3" height="10" fill="#c0c0c0"/>
<rect x="321" y="424" width="3" height="11" fill="#c0c0c0"/>
<rect x="325" y="425" width="3" height="10" fill="#c0c0c0"/>
<rect x="329" y="428" width="3" height="7" fill="#c0c0c0"/>
<rect x="333" y="426" width="3" height="9" fill="#c0c0c0"/>
<rect x="337" y="425" width="3" height="10" fill="#c0c0c0"/>
<rect x="341" y="425" width="3" height="10" fill="#c0c0c0"/>
<rect x="345" y="427" width="3" height="8" fill="#c0c0c0"/>
<rect x="349" y="430" width="3" height="5" fill="#c0c0c0"/>
<rect x="353" y="433" width="3" height="2" fill="#c0c0c0"/>
<rect x="357" y="435" width="3" height="1" fill="#c0c0c0"/>
<rect x="361" y="435" width="3" height="1" fill="#c0c0c0"/>
<rect x="365" y="435" width="3" height="3" fill="#c0c0c0"/>
<rect x="369" y="435" width="3" height="4" fill="#c0c0c0"/>
<rect x="373" y="435" width="3" height="5" fill="#c0c0c0"/>
<rect x="377" y="435" width="3" height="6" fill="#c0c0c0"/>
<rect x="381" y="435" width="3" height="7" fill="#c0c0c0"/>
<rect x="385" y="435" width="3" height="7" fill="#c0c0c0"/>
<rect x="389" y="435" width="3" height="9" fill="#c0c0c0"/>
<rect x="393" y="435" width="3" height="9" fill="#c0c0c0"/>
<rect x="397" y="435" width="3" height="9" fill="#c0c0c0"/>
<rect x="401" y="435" width="3" height="10" fill="#c0c0c0"/>
<rect x="405" y="435" width="3" height="10" fill="#c0c0c0"/>
<rect x="409" y="435" width="3" height="11" fill="#c0c0c0"/>
<rect x="413" y="435" width="3" height="12" fill="#c0c0c0"/>
<rect x="417" y="435" width="3" height="14" fill="#c0c0c0"/>
<rect x="421" y="435" width="3" height="15" fill="#c0c0c0"/>
<rect x="425" y="435" width="3" height="18" fill="#c0c0c0"/>
<rect x="429" y="435" width="3" height="19" fill="#c0c0c0"/>
<rect x="433" y="435" width="3" height="18" fill="#c0c0c0"/>
<rect x="437" y="435" width="3" height="17" fill="#c0c0c0"/>
<rect x="441" y="435" width="3" height="15" fill="#c0c0c0"/>
<rect x="445" y="435" width="3" height="15" fill="#c0c0c0"/>
<rect x="449" y="435" width="3" height="14" fill="#c0c0c0"/>
<rect x="453" y="435" width="3" height="14" fill="#c0c0c0"/>
<rect x="457" y="435" width="3" height="12" fill="#c0c0c0"/>
<rect x="461" y="435" width="3" height="10" fill="#c0c0c0"/>
<rect x="465" y="435" width="3" height="9" fill="#c0c0c0"/>
<rect x="469" y="435" width="3" height="7" fill="#c0c0c0"/>
<rect x="473" y="435" width="3" height="7" fill="#c0c0c0"/>
<rect x="477" y="435" width="3" height="7" fill="#c0c0c0"/>
<rect x="481" y="435" width="3" height="7" fill="#c0c0c0"/>
<rect x="485" y="435" width="3" height="6" fill="#c0c0c0"/>
<rect x="489" y="435" width="3" height="5" fill="#c0c0c0"/>
<rect x="493" y="435" width="3" height="4" fill="#c0c0c0"/>
<rect x="497" y="435" width="3" height="2" fill="#c0c0c0"/>
<rect x="501" y="435" width="3" height="1" fill="#c0c0c0"/>
<rect x="505" y="435" width="3" height="1" fill="#c0c0c0"/>
<rect x="509" y="435" width="3" height="2" fill="#c0c0c0"/>
<rect x="513" y="435" width="3" height="2" fill="#c0c0c0"/>
<rect x="517" y="435" width="3" height="2" fill="#c0c0c0"/>
<rect x="521" y="435" width="3" height="2" fill="#c0c0c0"/>
<rect x="525" y="435" width="3" height="7" fill="#c0c0c0"/>
<rect x="529" y="435" width="3" height="8" fill="#c0c0c0"/>
<rect x="533" y="435" width="3" height="9" fill="#c0c0c0"/>
<rect x="537" y="435" width="3" height="9" fill="#c0c0c0"/>
<rect x="541" y="435" width="3" height="9" fill="#c0c0c0"/>
<rect x="545" y="435" width="3" height="9" fill="#c0c0c0"/>
<rect x="549" y="435" width="3" height="6" fill="#c0c0c0"/>
<rect x="553" y="435" width="3" height="6" fill="#c0c0c0"/>
<rect x="557" y="435" width="3" height="7" fill="#c0c0c0"/>
<rect x="561" y="435" width="3" height="7" fill="#c0c0c0"/>
<rect x="565" y="435" width="3" height="7" fill="#c0c0c0"/>
<rect x="569" y="435" width="3" height="7" fill="#c0c0c0"/>
<rect x="573" y="435" width="3" height="7" fill="#c0c0c0"/>
<rect x="577" y="435" width="3" height="10" fill="#c0c0c0"/>
<rect x="581" y="435" width="3" height="11" fill="#c0c0c0"/>
<rect x="585" y="435" width="3" height="11" fill="#c0c0c0"/>
<rect x="589" y="435" width="3" height="11" fill="#c0c0c0"/>
<rect x="593" y="435" width="3" height="11" fill="#c0c0c0"/>
<rect x="597" y="435" width="3" height="12" fill="#c0c0c0"/>
<rect x="601" y="435" width="3" height="13" fill="#c0c0c0"/>
<rect x="605" y="435" width="3" height="14" fill="#c0c0c0"/>
<rect x="609" y="435" width="3" height="16" fill="#c0c0c0"/>
<rect x="613" y="435" width="3" height="19" fill="#c0c0c0"/>
<rect x="617" y="435" width="3" height="19" fill="#c0c0c0"/>
<rect x="621" y="435" width="3" height="20" fill="#c0c0c0"/>
<rect x="625" y="435" width="3" height="21" fill="#c0c0c0"/>
<rect x="629" y="435" width="3" height="23" fill="#c0c0c0"/>
<rect x="633" y="435" width="3" height="23" fill="#c0c0c0"/>
<rect x="637" y="435" width="3" height="21" fill="#c0c0c0"/>
<rect x="641" y="435" width="3" height="19" fill="#c0c0c0"/>
<rect x="645" y="435" width="3" height="17" fill="#c0c0c0"/>
<rect x="649" y="435" width="3" height="15" fill="#c0c0c0"/>
<rect x="653" y="435" width="3" height="10" fill="#c0c0c0"/>
<rect x="657" y="435" width="3" height="8" fill="#c0c0c0"/>
<rect x="661" y="435" width="3" height="5" fill="#c0c0c0"/>
<rect x="665" y="435" width="3" height="2" fill="#c0c0c0"/>
<rect x="669" y="433" width="3" height="2" fill="#c0c0c0"/>
<rect x="673" y="430" width="3" height="5" fill="#c0c0c0"/>
<rect x="677" y="429" width="3" height="6" fill="#c0c0c0"/>
<rect x="681" y="429" width="3" height="6" fill="#c0c0c0"/>
<rect x="685" y="429" width="3" height="6" fill="#c0c0c0"/>
<rect x="689" y="427" width="3" height="8" fill="#c0c0c0"/>
<rect x="693" y="428" width="3" height="7" fill="#c0c0c0"/>
<rect x="697" y="429" width="3" height="6" fill="#c0c0c0"/>
<rect x="701" y="428" width="3" height="7" fill="#c0c0c0"/>
<rect x="705" y="428" width="3" height="7" fill="#c0c0c0"/>
<rect x="709" y="429" width="3" height="6" fill="#c0c0c0"/>
<rect x="713" y="429" width="3" height="6" fill="#c0c0c0"/>
<rect x="717" y="429" width="3" height="6" fill="#c0c0c0"/>
<rect x="721" y="427" width="3" height="8" fill="#c0c0c0"/>
<rect x="725" y="424" width="3" height="11" fill="#c0c0c0"/>
<rect x="729" y="423" width="3" height="12" fill="#c0c0c0"/>
<rect x="733" y="423" width="3" height="12" fill="#c0c0c0"/>
<rect x="737" y="423" width="3" height="12" fill="#c0c0c0"/>
<rect x="741" y="423" width="3" height="12" fill="#c0c0c0"/>
<rect x="745" y="424" width="3" height="11" fill="#c0c0c0"/>
<rect x="749" y="426" width="3" height="9" fill="#c0c0c0"/>
<rect x="753" y="430" width="3" height="5" fill="#c0c0c0"/>
<rect x="757" y="433" width="3" height="2" fill="#c0c0c0"/>
<rect x="761" y="435" width="3" height="2" fill="#c0c0c0"/>
<rect x="765" y="435" width="3" height="3" fill="#c0c0c0"/>
<rect x="769" y="435" width="3" height="6" fill="#c0c0c0"/>
<rect x="773" y="435" width="3" height="7" fill="#c0c0c0"/>
<rect x="777" y="435" width="3" height="7" fill="#c0c0c0"/>
<rect x="781" y="435" width="3" height="5" fill="#c0c0c0"/>
<rect x="785" y="435" width="3" height="1" fill="#c0c0c0"/>
<rect x="789" y="433" width="3" height="2" fill="#c0c0c0"/>
<rect x="793" y="432" width="3" height="3" fill="#c0c0c0"/>
<rect x="797" y="430" width="3" height="5" fill="#c0c0c0"/>
<rect x="801" y="427" width="3" height="8" fill="#c0c0c0"/>
<rect x="805" y="420" width="3" height="15" fill="#c0c0c0"/>
<rect x="809" y="415" width="3" height="20" fill="#c0c0c0"/>
<rect x="813" y="413" width="3" height="22" fill="#c0c0c0"/>
<rect x="817" y="414" width="3" height="21" fill="#c0c0c0"/>
<rect x="821" y="412" width="3" height="23" fill="#c0c0c0"/>
<rect x="825" y="413" width="3" height="22" fill="#c0c0c0"/>
<rect x="829" y="414" width="3" height="21" fill="#c0c0c0"/>
<rect x="833" y="413" width="3" height="22" fill="#c0c0c0"/>
<rect x="837" y="414" width="3" height="21" fill="#c0c0c0"/>
<rect x="841" y="413" width="3" height="22" fill="#c0c0c0"/>
<rect x="845" y="414" width="3" height="21" fill="#c0c0c0"/>
<rect x="849" y="415" width="3" height="20" fill="#c0c0c0"/>
<rect x="853" y="416" width="3" height="19" fill="#c0c0c0"/>
<rect x="857" y="419" width="3" height="16" fill="#c0c0c0"/>
<rect x="861" y="421" width="3" height="14" fill="#c0c0c0"/>
<rect x="865" y="423" width="3" height="12" fill="#c0c0c0"/>
<rect x="869" y="426" width="3" height="9" fill="#c0c0c0"/>
<rect x="873" y="428" width="3" height="7" fill="#c0c0c0"/>
<rect x="877" y="428" width="3" height="7" fill="#c0c0c0"/>
<rect x="881" y="429" width="3" height="6" fill="#c0c0c0"/>
<rect x="885" y="429" width="3" height="6" fill="#c0c0c0"/>
<rect x="889" y="429" width="3" height="6" fill="#c0c0c0"/>
<rect x="893" y="428" width="3" height="7" fill="#c0c0c0"/>
<rect x="897" y="428" width="3" height="7" fill="#c0c0c0"/>
<rect x="901" y="427" width="3" height="8" fill="#c0c0c0"/>
<rect x="905" y="428" width="3" height="7" fill="#c0c0c0"/>
<rect x="909" y="429" width="3" height="6" fill="#c0c0c0"/>
<rect x="913" y="429" width="3" height="6" fill="#c0c0c0"/>
<rect x="917" y="429" width="3" height="6" fill="#c0c0c0"/>
<rect x="921" y="429" width="3" height="6" fill="#c0c0c0"/>
<rect x="925" y="428" width="3" height="7" fill="#c0c0c0"/>
</g>
<path d="M6 413h1v1h-1zM7 413h1v1h-1zM8 414h1v1h-1zM9 414h1v1h-1zM10 415h1v1h-1zM11 415h1v1h-1zM12 416h1v1h-1zM13 416h1v1h-1zM14 416h1v1h-1zM15 416h1v1h-1zM16 417h1v1h-1zM17 417h1v1h-1zM18 417h1v1h-1zM19 417h1v1h-1zM20 418h1v1h-1zM21 418h1v1h-1zM22 418h1v1h-1zM23 419h1v1h-1zM24 419h1v1h-1zM25 420h1v1h-1zM26 420h1v1h-1zM27 421h1v1h-1zM28 421h1v1h-1zM29 422h1v1h-1zM30 422h1v1h-1zM31 423h1v1h-1zM32 423h1v1h-1zM33 423h1v1h-1zM34 424h1v1h-1zM35 424h1v1h-1zM36 425h1v1h-1zM37 425h1v1h-1zM38 425h1v1h-1zM39 426h1v1h-1zM40 426h1v1h-1zM41 427h1v1h-1zM42 427h1v1h-1zM43 428h1v1h-1zM44 428h1v1h-1zM45 429h1v1h-1zM46 429h1v1h-1zM47 430h1v1h-1zM48 430h1v1h-1zM49 431h1v1h-1zM50 431h1v1h-1zM51 432h1v1h-1zM52 432h1v1h-1zM53 433h1v1h-1zM54 433h1v1h-1zM55 434h1v1h-1zM56 434h1v1h-1zM57 435h1v1h-1zM58 435h1v1h-1zM59 436h1v1h-1zM60 436h1v1h-1zM61 436h1v1h-1zM62 436h1v1h-1zM63 436h1v1h-1zM64 437h1v1h-1zM65 437h1v1h-1zM66 437h1v1h-1zM67 437h1v1h-1zM68 437h1v1h-1zM69 437h1v1h-1zM70 437h1v1h-1zM71 437h1v1h-1zM72 437h1v1h-1zM73 437h1v1h-1zM74 437h1v1h-1zM75 437h1v1h-1zM76 437h1v1h-1zM77 437h1v1h-1zM78 437h1v1h-1zM79 437h1v1h-1zM80 437h1v1h-1zM81 437h1v1h-1zM82 437h1v1h-1zM83 437h1v1h-1zM84 437h1v1h-1zM85 437h1v1h-1zM86 437h1v1h-1zM87 437h1v1h-1zM88 437h1v1h-1zM89 437h1v1h-1zM90 437h1v1h-1zM91 437h1v1h-1zM92 437h1v1h-1zM93 437h1v1h-1zM94 437h1v1h-1zM95 437h1v1h-1zM96 437h1v1h-1zM97 437h1v1h-1zM98 437h1v1h-1zM99 437h1v1h-1zM100 437h1v1h-1zM101 437h1v1h-1zM102 437h1v1h-1zM103 437h1v1h-1zM104 437h1v1h-1zM105 437h1v1h-1zM106 437h1v1h-1zM107 437h1v1h-1zM108 437h1v1h-1zM109 437h1v1h-1zM110 437h1v1h-1zM111 437h1v1h-1zM112 437h1v1h-1zM113 437h1v1h-1zM114 437h1v1h-1zM115 437h1v1h-1zM116 437h1v1h-1zM117 437h1v1h-1zM118 437h1v1h-1zM119 437h1v1h-1zM120 437h1v1h-1zM121 437h1v1h-1zM122 437h1v1h-1zM123 437h1v1h-1zM124 437h1v1h-1zM125 437h1v1h-1zM126 437h1v1h-1zM127 437h1v1h-1zM128 437h1v1h-1zM129 437h1v1h-1zM130 437h1v1h-1zM131 437h1v1h-1zM132 437h1v1h-1zM133 437h1v1h-1zM134 437h1v1h-1zM135 437h1v1h-1zM136 437h1v1h-1zM137 437h1v1h-1zM138 437h1v1h-1zM139 437h1v1h-1zM140 436h1v1h-1zM141 436h1v1h-1zM142 436h1v1h-1zM143 436h1v1h-1zM144 436h1v1h-1zM145 435h1v1h-1zM146 435h1v1h-1zM147 435h1v1h-1zM148 435h1v1h-1zM149 434h1v1h-1zM150 434h1v1h-1zM151 433h1v1h-1zM152 433h1v1h-1zM153 432h1v1h-1zM154 432h1v1h-1zM155 431h1v1h-1zM156 431h1v1h-1zM157 430h1v1h-1zM158 429h1v1h-1zM159 428h1v1h-1zM160 427h1v1h-1zM161 426h1v1h-1zM162 425h1v1h-1zM163 424h1v1h-1zM164 423h1v1h-1zM165 422h1v1h-1zM166 421h1v1h-1zM167 420h1v1h-1zM168 419h1v1h-1zM169 419h1v1h-1zM170 418h1v1h-1zM171 417h1v1h-1zM172 416h1v1h-1zM173 415h1v1h-1zM174 414h1v1h-1zM175 413h1v1h-1zM176 412h1v1h-1zM177 411h1v1h-1zM178 410h1v1h-1zM179 409h1v1h-1zM180 408h1v1h-1zM181 407h1v1h-1zM182 407h1v1h-1zM183 406h1v1h-1zM184 406h1v1h-1zM185 405h1v1h-1zM186 405h1v1h-1zM187 405h1v1h-1zM188 405h1v1h-1zM189 404h1v1h-1zM190 404h1v1h-1zM191 404h1v1h-1zM192 404h1v1h-1zM193 404h1v1h-1zM194 404h1v1h-1zM195 404h1v1h-1zM196 403h1v1h-1zM197 403h1v1h-1zM198 403h1v1h-1zM199 403h1v1h-1zM200 403h1v1h-1zM201 403h1v1h-1zM202 404h1v1h-1zM203 404h1v1h-1zM204 405h1v1h-1zM205 405h1v1h-1zM206 405h1v1h-1zM207 405h1v1h-1zM208 405h1v1h-1zM209 405h1v1h-1zM210 405h1v1h-1zM211 405h1v1h-1zM212 405h1v1h-1zM213 405h1v1h-1zM214 405h1v1h-1zM215 405h1v1h-1zM216 405h1v1h-1zM217 405h1v1h-1zM218 405h1v1h-1zM219 405h1v1h-1zM220 405h1v1h-1zM221 405h1v1h-1zM222 405h1v1h-1zM223 405h1v1h-1zM224 405h1v1h-1zM225 405h1v1h-1zM226 405h1v1h-1zM227 404h1v1h-1zM228 404h1v1h-1zM229 404h1v1h-1zM230 404h1v1h-1zM231 403h1v1h-1zM232 403h1v1h-1zM233 403h1v1h-1zM234 403h1v1h-1zM235 402h1v1h-1zM236 402h1v1h-1zM237 402h1v1h-1zM238 402h1v1h-1zM239 401h1v1h-1zM240 401h1v1h-1zM241 401h1v1h-1zM242 401h1v1h-1zM243 401h1v1h-1zM244 401h1v1h-1zM245 401h1v1h-1zM246 401h1v1h-1zM247 401h1v1h-1zM248 401h1v1h-1zM249 401h1v1h-1zM250 401h1v1h-1zM251 402h1v1h-1zM252 402h1v1h-1zM253 402h1v1h-1zM254 402h1v1h-1zM255 403h1v1h-1zM256 403h1v1h-1zM257 404h1v1h-1zM258 404h1v1h-1zM259 405h1v1h-1zM260 405h1v1h-1zM261 405h1v1h-1zM262 406h1v1h-1zM263 406h1v1h-1zM264 407h1v1h-1zM265 407h1v1h-1zM266 408h1v1h-1zM267 408h1v1h-1zM268 409h1v1h-1zM269 409h1v1h-1zM270 410h1v1h-1zM271 411h1v1h-1zM272 412h1v1h-1zM273 412h1v1h-1zM274 413h1v1h-1zM275 414h1v1h-1zM276 415h1v1h-1zM277 416h1v2h-1zM278 418h1v1h-1zM279 419h1v1h-1zM280 420h1v1h-1zM281 420h1v1h-1zM282 421h1v1h-1zM283 421h1v1h-1zM284 422h1v1h-1zM285 422h1v1h-1zM286 423h1v1h-1zM287 423h1v1h-1zM288 424h1v1h-1zM289 424h1v1h-1zM290 425h1v1h-1zM291 426h1v1h-1zM292 426h1v1h-1zM293 427h1v1h-1zM294 427h1v1h-1zM295 428h1v1h-1zM296 428h1v1h-1zM297 429h1v1h-1zM298 429h1v1h-1zM299 429h1v1h-1zM300 430h1v1h-1zM301 430h1v1h-1zM302 430h1v1h-1zM303 430h1v1h-1zM304 430h1v1h-1zM305 430h1v1h-1zM306 430h1v1h-1zM307 430h1v1h-1zM308 430h1v1h-1zM309 430h1v1h-1zM310 430h1v1h-1zM311 430h1v1h-1zM312 430h1v1h-1zM313 430h1v1h-1zM314 430h1v1h-1zM315 430h1v1h-1zM316 429h1v1h-1zM317 429h1v1h-1zM318 428h1v1h-1zM319 428h1v1h-1zM320 427h1v1h-1zM321 427h1v1h-1zM322 427h1v1h-1zM323 427h1v1h-1zM324 427h1v1h-1zM325 427h1v1h-1zM326 427h1v1h-1zM327 427h1v1h-1zM328 427h1v1h-1zM329 427h1v1h-1zM330 427h1v1h-1zM331 427h1v1h-1zM332 427h1v1h-1zM333 426h1v1h-1zM334 426h1v1h-1zM335 426h1v1h-1zM336 426h1v1h-1zM337 426h1v1h-1zM338 426h1v1h-1zM339 426h1v1h-1zM340 426h1v1h-1zM341 426h1v1h-1zM342 426h1v1h-1zM343 426h1v1h-1zM344 426h1v1h-1zM345 426h1v1h-1zM346 426h1v1h-1zM347 426h1v1h-1zM348 426h1v1h-1zM349 426h1v1h-1zM350 426h1v1h-1zM351 426h1v1h-1zM352 426h1v1h-1zM353 426h1v1h-1zM354 426h1v1h-1zM355 427h1v1h-1zM356 427h1v1h-1zM357 428h1v1h-1zM358 428h1v1h-1zM359 429h1v1h-1zM360 429h1v1h-1zM361 429h1v1h-1zM362 430h1v1h-1zM363 430h1v1h-1zM364 431h1v1h-1zM365 431h1v1h-1zM366 431h1v1h-1zM367 432h1v1h-1zM368 432h1v1h-1zM369 432h1v1h-1zM370 433h1v1h-1zM371 433h1v1h-1zM372 433h1v1h-1zM373 433h1v1h-1zM374 434h1v1h-1zM375 434h1v1h-1zM376 434h1v1h-1zM377 435h1v1h-1zM378 435h1v1h-1zM379 436h1v1h-1zM380 436h1v1h-1zM381 437h1v1h-1zM382 437h1v1h-1zM383 438h1v1h-1zM384 438h1v1h-1zM385 438h1v1h-1zM386 438h1v1h-1zM387 439h1v1h-1zM388 439h1v1h-1zM389 439h1v1h-1zM390 439h1v1h-1zM391 439h1v1h-1zM392 439h1v1h-1zM393 440h1v1h-1zM394 440h1v1h-1zM395 440h1v1h-1zM396 440h1v1h-1zM397 441h1v1h-1zM398 441h1v1h-1zM399 441h1v1h-1zM400 441h1v1h-1zM401 442h1v1h-1zM402 442h1v1h-1zM403 442h1v1h-1zM404 442h1v1h-1zM405 442h1v1h-1zM406 442h1v1h-1zM407 443h1v1h-1zM408 443h1v1h-1zM409 443h1v1h-1zM410 443h1v1h-1zM411 443h1v1h-1zM412 444h1v1h-1zM413 444h1v1h-1zM414 444h1v1h-1zM415 444h1v1h-1zM416 445h1v1h-1zM417 445h1v1h-1zM418 445h1v1h-1zM419 445h1v1h-1zM420 446h1v1h-1zM421 446h1v1h-1zM422 446h1v1h-1zM423 446h1v1h-1zM424 447h1v1h-1zM425 447h1v1h-1zM426 447h1v1h-1zM427 447h1v1h-1zM428 447h1v1h-1zM429 447h1v1h-1zM430 448h1v1h-1zM431 448h1v1h-1zM432 448h1v1h-1zM433 448h1v1h-1zM434 448h1v1h-1zM435 448h1v1h-1zM436 449h1v1h-1zM437 449h1v1h-1zM438 449h1v1h-1zM439 449h1v1h-1zM440 450h1v1h-1zM441 450h1v1h-1zM442 450h1v1h-1zM443 450h1v1h-1zM444 450h1v1h-1zM445 450h1v1h-1zM446 450h1v1h-1zM447 450h1v1h-1zM448 450h1v1h-1zM449 450h1v1h-1zM450 450h1v1h-1zM451 450h1v1h-1zM452 450h1v1h-1zM453 450h1v1h-1zM454 450h1v1h-1zM455 450h1v1h-1zM456 450h1v1h-1zM457 450h1v1h-1zM458 450h1v1h-1zM459 450h1v1h-1zM460 450h1v1h-1zM461 449h1v1h-1zM462 449h1v1h-1zM463 449h1v1h-1zM464 448h1v1h-1zM465 448h1v1h-1zM466 448h1v1h-1zM467 447h1v1h-1zM468 447h1v1h-1zM469 447h1v1h-1zM470 447h1v1h-1zM471 446h1v1h-1zM472 446h1v1h-1zM473 446h1v1h-1zM474 446h1v1h-1zM475 446h1v1h-1zM476 445h1v1h-1zM477 445h1v1h-1zM478 445h1v1h-1zM479 445h1v1h-1zM480 444h1v1h-1zM481 444h1v1h-1zM482 444h1v1h-1zM483 443h1v1h-1zM484 443h1v1h-1zM485 443h1v1h-1zM486 442h1v1h-1zM487 442h1v1h-1zM488 442h1v1h-1zM489 442h1v1h-1zM490 441h1v1h-1zM491 441h1v1h-1zM492 441h1v1h-1zM493 441h1v1h-1zM494 440h1v1h-1zM495 440h1v1h-1zM496 440h1v1h-1zM497 440h1v1h-1zM498 440h1v1h-1zM499 440h1v1h-1zM500 440h1v1h-1zM501 439h1v1h-1zM502 439h1v1h-1zM503 439h1v1h-1zM504 439h1v1h-1zM505 439h1v1h-1zM506 439h1v1h-1zM507 438h1v1h-1zM508 438h1v1h-1zM509 438h1v1h-1zM510 438h1v1h-1zM511 437h1v1h-1zM512 437h1v1h-1zM513 437h1v1h-1zM514 437h1v1h-1zM515 437h1v1h-1zM516 437h1v1h-1zM517 437h1v1h-1zM518 437h1v1h-1zM519 437h1v1h-1zM520 437h1v1h-1zM521 437h1v1h-1zM522 437h1v1h-1zM523 437h1v1h-1zM524 437h1v1h-1zM525 437h1v1h-1zM526 437h1v1h-1zM527 437h1v1h-1zM528 437h1v1h-1zM529 437h1v1h-1zM530 437h1v1h-1zM531 437h1v1h-1zM532 437h1v1h-1zM533 437h1v1h-1zM534 438h1v1h-1zM535 438h1v1h-1zM536 439h1v1h-1zM537 439h1v1h-1zM538 439h1v1h-1zM539 439h1v1h-1zM540 439h1v1h-1zM541 439h1v1h-1zM542 439h1v1h-1zM543 439h1v1h-1zM544 439h1v1h-1zM545 439h1v1h-1zM546 439h1v1h-1zM547 440h1v1h-1zM548 440h1v1h-1zM549 441h1v1h-1zM550 441h1v1h-1zM551 441h1v1h-1zM552 441h1v1h-1zM553 441h1v1h-1zM554 442h1v1h-1zM555 442h1v1h-1zM556 442h1v1h-1zM557 442h1v1h-1zM558 442h1v1h-1zM559 442h1v1h-1zM560 442h1v1h-1zM561 442h1v1h-1zM562 442h1v1h-1zM563 442h1v1h-1zM564 442h1v1h-1zM565 442h1v1h-1zM566 442h1v1h-1zM567 442h1v1h-1zM568 442h1v1h-1zM569 442h1v1h-1zM570 442h1v1h-1zM571 442h1v1h-1zM572 442h1v1h-1zM573 442h1v1h-1zM574 442h1v1h-1zM575 442h1v1h-1zM576 442h1v1h-1zM577 442h1v1h-1zM578 442h1v1h-1zM579 442h1v1h-1zM580 442h1v1h-1zM581 442h1v1h-1zM582 442h1v1h-1zM583 442h1v1h-1zM584 442h1v1h-1zM585 442h1v1h-1zM586 443h1v1h-1zM587 443h1v1h-1zM588 443h1v1h-1zM589 443h1v1h-1zM590 443h1v1h-1zM591 443h1v1h-1zM592 443h1v1h-1zM593 443h1v1h-1zM594 443h1v1h-1zM595 443h1v1h-1zM596 443h1v1h-1zM597 444h1v1h-1zM598 444h1v1h-1zM599 445h1v1h-1zM600 445h1v1h-1zM601 445h1v1h-1zM602 445h1v1h-1zM603 445h1v1h-1zM604 446h1v1h-1zM605 446h1v1h-1zM606 446h1v1h-1zM607 446h1v1h-1zM608 446h1v1h-1zM609 446h1v1h-1zM610 447h1v1h-1zM611 447h1v1h-1zM612 447h1v1h-1zM613 447h1v1h-1zM614 448h1v1h-1zM615 448h1v1h-1zM616 448h1v1h-1zM617 448h1v1h-1zM618 449h1v1h-1zM619 449h1v1h-1zM620 449h1v1h-1zM621 449h1v1h-1zM622 450h1v1h-1zM623 450h1v1h-1zM624 450h1v1h-1zM625 450h1v1h-1zM626 451h1v1h-1zM627 451h1v1h-1zM628 451h1v1h-1zM629 452h1v1h-1zM630 452h1v1h-1zM631 452h1v1h-1zM632 453h1v1h-1zM633 453h1v1h-1zM634 453h1v1h-1zM635 453h1v1h-1zM636 454h1v1h-1zM637 454h1v1h-1zM638 454h1v1h-1zM639 454h1v1h-1zM640 454h1v1h-1zM641 455h1v1h-1zM642 455h1v1h-1zM643 455h1v1h-1zM644 455h1v1h-1zM645 456h1v1h-1zM646 456h1v1h-1zM647 456h1v1h-1zM648 455h1v1h-1zM649 455h1v1h-1zM650 455h1v1h-1zM651 454h1v1h-1zM652 454h1v1h-1zM653 454h1v1h-1zM654 453h1v1h-1zM655 453h1v1h-1zM656 453h1v1h-1zM657 452h1v1h-1zM658 452h1v1h-1zM659 451h1v1h-1zM660 451h1v1h-1zM661 450h1v1h-1zM662 450h1v1h-1zM663 449h1v1h-1zM664 449h1v1h-1zM665 448h1v1h-1zM666 447h1v1h-1zM667 447h1v1h-1zM668 446h1v1h-1zM669 445h1v1h-1zM670 444h1v1h-1zM671 443h1v1h-1zM672 443h1v1h-1zM673 442h1v1h-1zM674 441h1v1h-1zM675 440h1v1h-1zM676 440h1v1h-1zM677 439h1v1h-1zM678 439h1v1h-1zM679 438h1v1h-1zM680 438h1v1h-1zM681 437h1v1h-1zM682 437h1v1h-1zM683 436h1v1h-1zM684 436h1v1h-1zM685 435h1v1h-1zM686 435h1v1h-1zM687 434h1v1h-1zM688 434h1v1h-1zM689 433h1v1h-1zM690 433h1v1h-1zM691 432h1v1h-1zM692 432h1v1h-1zM693 432h1v1h-1zM694 431h1v1h-1zM695 431h1v1h-1zM696 431h1v1h-1zM697 431h1v1h-1zM698 430h1v1h-1zM699 430h1v1h-1zM700 430h1v1h-1zM701 430h1v1h-1zM702 429h1v1h-1zM703 429h1v1h-1zM704 429h1v1h-1zM705 429h1v1h-1zM706 428h1v1h-1zM707 428h1v1h-1zM708 428h1v1h-1zM709 428h1v1h-1zM710 428h1v1h-1zM711 428h1v1h-1zM712 428h1v1h-1zM713 428h1v1h-1zM714 428h1v1h-1zM715 428h1v1h-1zM716 428h1v1h-1zM717 428h1v1h-1zM718 428h1v1h-1zM719 428h1v1h-1zM720 428h1v1h-1zM721 428h1v1h-1zM722 428h1v1h-1zM723 428h1v1h-1zM724 428h1v1h-1zM725 428h1v1h-1zM726 428h1v1h-1zM727 428h1v1h-1zM728 427h1v1h-1zM729 427h1v1h-1zM730 427h1v1h-1zM731 427h1v1h-1zM732 426h1v1h-1zM733 426h1v1h-1zM734 426h1v1h-1zM735 426h1v1h-1zM736 426h1v1h-1zM737 426h1v1h-1zM738 426h1v1h-1zM739 425h1v1h-1zM740 425h1v1h-1zM741 425h1v1h-1zM742 425h1v1h-1zM743 425h1v1h-1zM744 425h1v1h-1zM745 425h1v1h-1zM746 425h1v1h-1zM747 425h1v1h-1zM748 424h1v1h-1zM749 424h1v1h-1zM750 424h1v1h-1zM751 424h1v1h-1zM752 424h1v1h-1zM753 424h1v1h-1zM754 424h1v1h-1zM755 425h1v1h-1zM756 425h1v1h-1zM757 425h1v1h-1zM758 425h1v1h-1zM759 425h1v1h-1zM760 426h1v1h-1zM761 426h1v1h-1zM762 427h1v1h-1zM763 427h1v1h-1zM764 428h1v1h-1zM765 428h1v1h-1zM766 429h1v1h-1zM767 429h1v1h-1zM768 429h1v1h-1zM769 430h1v1h-1zM770 430h1v1h-1zM771 431h1v1h-1zM772 431h1v1h-1zM773 431h1v1h-1zM774 432h1v1h-1zM775 432h1v1h-1zM776 433h1v1h-1zM777 433h1v1h-1zM778 434h1v1h-1zM779 434h1v1h-1zM780 435h1v1h-1zM781 435h1v1h-1zM782 436h1v1h-1zM783 436h1v1h-1zM784 436h1v1h-1zM785 437h1v1h-1zM786 437h1v1h-1zM787 437h1v1h-1zM788 437h1v1h-1zM789 438h1v1h-1zM790 438h1v1h-1zM791 438h1v1h-1zM792 438h1v1h-1zM793 438h1v1h-1zM794 438h1v1h-1zM795 438h1v1h-1zM796 437h1v1h-1zM797 437h1v1h-1zM798 437h1v1h-1zM799 437h1v1h-1zM800 437h1v1h-1zM801 436h1v1h-1zM802 436h1v1h-1zM803 435h1v1h-1zM804 434h1v1h-1zM805 434h1v1h-1zM806 433h1v1h-1zM807 432h1v1h-1zM808 432h1v1h-1zM809 431h1v1h-1zM810 430h1v1h-1zM811 429h1v1h-1zM812 429h1v1h-1zM813 428h1v1h-1zM814 427h1v1h-1zM815 426h1v1h-1zM816 426h1v1h-1zM817 425h1v1h-1zM818 424h1v1h-1zM819 424h1v1h-1zM820 423h1v1h-1zM821 423h1v1h-1zM822 422h1v1h-1zM823 422h1v1h-1zM824 421h1v1h-1zM825 421h1v1h-1zM826 420h1v1h-1zM827 420h1v1h-1zM828 419h1v1h-1zM829 419h1v1h-1zM830 418h1v1h-1zM831 418h1v1h-1zM832 417h1v1h-1zM833 417h1v1h-1zM834 416h1v1h-1zM835 416h1v1h-1zM836 415h1v1h-1zM837 415h1v1h-1zM838 414h1v1h-1zM839 414h1v1h-1zM840 414h1v1h-1zM841 414h1v1h-1zM842 414h1v1h-1zM843 414h1v1h-1zM844 414h1v1h-1zM845 414h1v1h-1zM846 414h1v1h-1zM847 414h1v1h-1zM848 414h1v1h-1zM849 414h1v1h-1zM850 414h1v1h-1zM851 414h1v1h-1zM852 415h1v1h-1zM853 415h1v1h-1zM854 415h1v1h-1zM855 415h1v1h-1zM856 415h1v1h-1zM857 415h1v1h-1zM858 415h1v1h-1zM859 416h1v1h-1zM860 416h1v1h-1zM861 416h1v1h-1zM862 416h1v1h-1zM863 417h1v1h-1zM864 417h1v1h-1zM865 417h1v1h-1zM866 417h1v1h-1zM867 418h1v1h-1zM868 418h1v1h-1zM869 418h1v1h-1zM870 418h1v1h-1zM871 419h1v1h-1zM872 419h1v1h-1zM873 420h1v1h-1zM874 420h1v1h-1zM875 421h1v1h-1zM876 421h1v1h-1zM877 421h1v1h-1zM878 422h1v1h-1zM879 422h1v1h-1zM880 423h1v1h-1zM881 423h1v1h-1zM882 423h1v1h-1zM883 424h1v1h-1zM884 424h1v1h-1zM885 425h1v1h-1zM886 425h1v1h-1zM887 425h1v1h-1zM888 426h1v1h-1zM889 426h1v1h-1zM890 426h1v1h-1zM891 427h1v1h-1zM892 427h1v1h-1zM893 428h1v1h-1zM894 428h1v1h-1zM895 428h1v1h-1zM896 428h1v1h-1zM897 428h1v1h-1zM898 428h1v1h-1zM899 428h1v1h-1zM900 428h1v1h-1zM901 428h1v1h-1zM902 428h1v1h-1zM903 428h1v1h-1zM904 428h1v1h-1zM905 428h1v1h-1zM906 428h1v1h-1zM907 428h1v1h-1zM908 428h1v1h-1zM909 428h1v1h-1zM910 428h1v1h-1zM911 428h1v1h-1zM912 428h1v1h-1zM913 428h1v1h-1zM914 428h1v1h-1zM915 428h1v1h-1zM916 428h1v1h-1zM917 428h1v1h-1zM918 428h1v1h-1zM919 428h1v1h-1zM920 428h1v1h-1zM921 428h1v1h-1zM922 428h1v1h-1zM923 428h1v1h-1zM924 428h1v1h-1zM925 428h1v1h-1zM926 428h1v1h-1z" fill="#ff0000" shape-rendering="crispEdges" />
<text x="10.2" y="406.5" font-size="9.4" fill="#000" stroke="#000" stroke-width="0.25">MACD(12,26,9) 0.011026 0.010448</text>
<rect x="1169" y="396" width="2" height="1" fill="#000"/>
<text x="1172" y="404.7" font-size="9.1" fill="#000" stroke="#000" stroke-width="0.25">0.060657</text>
<rect x="1169" y="435" width="2" height="1" fill="#000"/>
<text x="1172" y="438.6" font-size="9.1" fill="#000" stroke="#000" stroke-width="0.25">0.00</text>
<rect x="1169" y="460" width="2" height="1" fill="#000"/>
<text x="1172" y="457.5" font-size="9.1" fill="#000" stroke="#000" stroke-width="0.25">-0.039792</text>
<g shape-rendering="crispEdges">
<line x1="7" y1="485.5" x2="1168" y2="485.5" stroke="#c0c0c0" stroke-width="1" stroke-dasharray="3,3"/>
<line x1="7" y1="511.5" x2="1168" y2="511.5" stroke="#c0c0c0" stroke-width="1" stroke-dasharray="3,3"/>
</g>
<path d="M6 489h1v1h-1zM7 489h1v1h-1zM8 489h1v1h-1zM9 489h1v1h-1zM10 489h1v1h-1zM11 489h1v1h-1zM12 489h1v1h-1zM13 490h1v1h-1zM14 491h1v2h-1zM15 493h1v2h-1zM16 495h1v2h-1zM17 497h1v2h-1zM18 499h1v2h-1zM19 500h1v1h-1zM20 500h1v1h-1zM21 500h1v1h-1zM22 500h1v1h-1zM23 501h1v2h-1zM24 503h1v1h-1zM25 504h1v2h-1zM26 506h1v1h-1zM27 506h1v1h-1zM28 505h1v1h-1zM29 505h1v1h-1zM30 505h1v1h-1zM31 504h1v1h-1zM32 504h1v1h-1zM33 503h1v1h-1zM34 503h1v1h-1zM35 502h1v1h-1zM36 501h1v1h-1zM37 501h1v1h-1zM38 500h1v1h-1zM39 500h1v1h-1zM40 500h1v1h-1zM41 500h1v1h-1zM42 500h1v1h-1zM43 501h1v1h-1zM44 501h1v1h-1zM45 502h1v1h-1zM46 502h1v1h-1zM47 503h1v1h-1zM48 503h1v1h-1zM49 503h1v1h-1zM50 503h1v1h-1zM51 503h1v1h-1zM52 504h1v1h-1zM53 505h1v1h-1zM54 505h1v1h-1zM55 506h1v1h-1zM56 504h1v2h-1zM57 503h1v1h-1zM58 501h1v2h-1zM59 500h1v1h-1zM60 500h1v1h-1zM61 500h1v1h-1zM62 500h1v1h-1zM63 500h1v1h-1zM64 500h1v1h-1zM65 501h1v1h-1zM66 501h1v1h-1zM67 500h1v1h-1zM68 499h1v1h-1zM69 498h1v1h-1zM70 497h1v1h-1zM71 496h1v1h-1zM72 497h1v1h-1zM73 497h1v1h-1zM74 498h1v1h-1zM75 497h1v1h-1zM76 497h1v1h-1zM77 496h1v1h-1zM78 496h1v1h-1zM79 497h1v1h-1zM80 498h1v2h-1zM81 500h1v1h-1zM82 501h1v1h-1zM83 501h1v1h-1zM84 500h1v1h-1zM85 500h1v1h-1zM86 500h1v1h-1zM87 500h1v1h-1zM88 500h1v1h-1zM89 500h1v1h-1zM90 500h1v1h-1zM91 500h1v1h-1zM92 501h1v1h-1zM93 501h1v1h-1zM94 501h1v1h-1zM95 501h1v1h-1zM96 500h1v1h-1zM97 500h1v1h-1zM98 500h1v1h-1zM99 500h1v1h-1zM100 500h1v1h-1zM101 500h1v1h-1zM102 500h1v1h-1zM103 501h1v1h-1zM104 501h1v1h-1zM105 502h1v1h-1zM106 502h1v1h-1zM107 501h1v1h-1zM108 500h1v1h-1zM109 500h1v1h-1zM110 499h1v1h-1zM111 499h1v1h-1zM112 499h1v1h-1zM113 499h1v1h-1zM114 499h1v1h-1zM115 499h1v1h-1zM116 499h1v1h-1zM117 499h1v1h-1zM118 499h1v1h-1zM119 500h1v1h-1zM120 500h1v1h-1zM121 501h1v1h-1zM122 501h1v1h-1zM123 502h1v1h-1zM124 502h1v1h-1zM125 502h1v1h-1zM126 502h1v1h-1zM127 501h1v1h-1zM128 500h1v1h-1zM129 499h1v1h-1zM130 499h1v1h-1zM131 498h1v1h-1zM132 497h1v1h-1zM133 496h1v1h-1zM134 496h1v1h-1zM135 496h1v1h-1zM136 495h1v1h-1zM137 495h1v1h-1zM138 495h1v1h-1zM139 494h1v1h-1zM140 493h1v1h-1zM141 492h1v1h-1zM142 491h1v1h-1zM143 489h1v2h-1zM144 487h1v2h-1zM145 485h1v2h-1zM146 483h1v2h-1zM147 481h1v2h-1zM148 481h1v1h-1zM149 480h1v1h-1zM150 480h1v1h-1zM151 478h1v2h-1zM152 476h1v2h-1zM153 474h1v2h-1zM154 472h1v2h-1zM155 474h1v3h-1zM156 477h1v4h-1zM157 481h1v3h-1zM158 484h1v2h-1zM159 484h1v1h-1zM160 484h1v1h-1zM161 483h1v1h-1zM162 483h1v1h-1zM163 484h1v1h-1zM164 484h1v1h-1zM165 485h1v1h-1zM166 485h1v1h-1zM167 484h1v1h-1zM168 484h1v1h-1zM169 483h1v1h-1zM170 483h1v1h-1zM171 483h1v1h-1zM172 483h1v1h-1zM173 483h1v1h-1zM174 483h1v2h-1zM175 485h1v3h-1zM176 488h1v2h-1zM177 490h1v3h-1zM178 493h1v2h-1zM179 493h1v1h-1zM180 493h1v1h-1zM181 492h1v1h-1zM182 492h1v1h-1zM183 492h1v1h-1zM184 492h1v1h-1zM185 492h1v1h-1zM186 492h1v1h-1zM187 492h1v1h-1zM188 492h1v1h-1zM189 492h1v1h-1zM190 492h1v1h-1zM191 491h1v1h-1zM192 490h1v1h-1zM193 490h1v1h-1zM194 489h1v1h-1zM195 489h1v1h-1zM196 489h1v1h-1zM197 489h1v1h-1zM198 489h1v1h-1zM199 489h1v1h-1zM200 489h1v1h-1zM201 489h1v1h-1zM202 490h1v1h-1zM203 491h1v1h-1zM204 490h1v1h-1zM205 490h1v1h-1zM206 489h1v1h-1zM207 489h1v1h-1zM208 488h1v1h-1zM209 487h1v1h-1zM210 486h1v1h-1zM211 485h1v1h-1zM212 484h1v1h-1zM213 483h1v1h-1zM214 483h1v1h-1zM215 483h1v1h-1zM216 483h1v1h-1zM217 483h1v1h-1zM218 483h1v1h-1zM219 483h1v1h-1zM220 483h1v1h-1zM221 483h1v1h-1zM222 483h1v1h-1zM223 484h1v1h-1zM224 485h1v1h-1zM225 486h1v1h-1zM226 487h1v1h-1zM227 488h1v1h-1zM228 487h1v1h-1zM229 487h1v1h-1zM230 486h1v1h-1zM231 485h1v1h-1zM232 485h1v1h-1zM233 484h1v1h-1zM234 484h1v1h-1zM235 485h1v1h-1zM236 485h1v1h-1zM237 486h1v1h-1zM238 486h1v1h-1zM239 487h1v1h-1zM240 488h1v2h-1zM241 490h1v1h-1zM242 491h1v1h-1zM243 491h1v1h-1zM244 491h1v1h-1zM245 491h1v1h-1zM246 491h1v1h-1zM247 491h1v1h-1zM248 492h1v2h-1zM249 494h1v1h-1zM250 495h1v2h-1zM251 497h1v1h-1zM252 497h1v1h-1zM253 496h1v1h-1zM254 496h1v1h-1zM255 496h1v1h-1zM256 496h1v1h-1zM257 496h1v1h-1zM258 497h1v1h-1zM259 497h1v1h-1zM260 497h1v1h-1zM261 498h1v1h-1zM262 499h1v1h-1zM263 500h1v1h-1zM264 500h1v1h-1zM265 501h1v1h-1zM266 502h1v1h-1zM267 502h1v1h-1zM268 503h1v1h-1zM269 503h1v1h-1zM270 503h1v1h-1zM271 502h1v1h-1zM272 502h1v1h-1zM273 501h1v1h-1zM274 501h1v1h-1zM275 500h1v1h-1zM276 500h1v1h-1zM277 499h1v1h-1zM278 499h1v1h-1zM279 499h1v1h-1zM280 499h1v1h-1zM281 499h1v1h-1zM282 499h1v1h-1zM283 498h1v1h-1zM284 498h1v1h-1zM285 497h1v1h-1zM286 496h1v1h-1zM287 496h1v1h-1zM288 495h1v1h-1zM289 495h1v1h-1zM290 494h1v1h-1zM291 494h1v1h-1zM292 495h1v1h-1zM293 495h1v1h-1zM294 495h1v1h-1zM295 495h1v1h-1zM296 496h1v1h-1zM297 496h1v1h-1zM298 496h1v1h-1zM299 495h1v1h-1zM300 495h1v1h-1zM301 494h1v1h-1zM302 494h1v1h-1zM303 493h1v1h-1zM304 493h1v1h-1zM305 493h1v1h-1zM306 493h1v1h-1zM307 493h1v1h-1zM308 492h1v1h-1zM309 492h1v1h-1zM310 491h1v1h-1zM311 491h1v1h-1zM312 491h1v1h-1zM313 491h1v1h-1zM314 491h1v1h-1zM315 491h1v1h-1zM316 491h1v1h-1zM317 491h1v1h-1zM318 491h1v1h-1zM319 491h1v1h-1zM320 491h1v1h-1zM321 491h1v1h-1zM322 491h1v1h-1zM323 492h1v1h-1zM324 493h1v1h-1zM325 494h1v1h-1zM326 495h1v1h-1zM327 496h1v1h-1zM328 497h1v1h-1zM329 498h1v1h-1zM330 499h1v1h-1zM331 498h1v1h-1zM332 497h1v1h-1zM333 496h1v1h-1zM334 495h1v1h-1zM335 494h1v1h-1zM336 493h1v1h-1zM337 492h1v1h-1zM338 492h1v1h-1zM339 492h1v1h-1zM340 491h1v1h-1zM341 491h1v1h-1zM342 491h1v1h-1zM343 492h1v2h-1zM344 494h1v2h-1zM345 496h1v2h-1zM346 498h1v2h-1zM347 500h1v1h-1zM348 501h1v1h-1zM349 502h1v1h-1zM350 502h1v1h-1zM351 503h1v1h-1zM352 503h1v1h-1zM353 504h1v1h-1zM354 504h1v1h-1zM355 503h1v1h-1zM356 503h1v1h-1zM357 502h1v1h-1zM358 502h1v1h-1zM359 501h1v1h-1zM360 501h1v1h-1zM361 500h1v1h-1zM362 500h1v1h-1zM363 500h1v1h-1zM364 501h1v1h-1zM365 501h1v1h-1zM366 502h1v1h-1zM367 502h1v1h-1zM368 502h1v1h-1zM369 503h1v1h-1zM370 503h1v1h-1zM371 503h1v1h-1zM372 503h1v1h-1zM373 503h1v1h-1zM374 503h1v1h-1zM375 503h1v1h-1zM376 503h1v1h-1zM377 502h1v1h-1zM378 502h1v1h-1zM379 502h1v1h-1zM380 502h1v1h-1zM381 503h1v1h-1zM382 503h1v1h-1zM383 504h1v1h-1zM384 503h1v1h-1zM385 503h1v1h-1zM386 502h1v1h-1zM387 503h1v1h-1zM388 504h1v1h-1zM389 504h1v1h-1zM390 505h1v1h-1zM391 506h1v1h-1zM392 505h1v1h-1zM393 504h1v1h-1zM394 503h1v1h-1zM395 503h1v1h-1zM396 502h1v1h-1zM397 502h1v1h-1zM398 503h1v1h-1zM399 503h1v1h-1zM400 504h1v1h-1zM401 505h1v1h-1zM402 505h1v1h-1zM403 506h1v1h-1zM404 506h1v1h-1zM405 506h1v1h-1zM406 506h1v1h-1zM407 506h1v1h-1zM408 506h1v1h-1zM409 506h1v1h-1zM410 506h1v1h-1zM411 507h1v1h-1zM412 507h1v1h-1zM413 507h1v1h-1zM414 508h1v1h-1zM415 509h1v1h-1zM416 509h1v1h-1zM417 510h1v1h-1zM418 511h1v1h-1zM419 510h1v1h-1zM420 509h1v1h-1zM421 509h1v1h-1zM422 508h1v1h-1zM423 509h1v1h-1zM424 510h1v1h-1zM425 511h1v1h-1zM426 512h1v1h-1zM427 513h1v1h-1zM428 512h1v1h-1zM429 511h1v1h-1zM430 510h1v1h-1zM431 509h1v1h-1zM432 508h1v1h-1zM433 507h1v1h-1zM434 506h1v1h-1zM435 505h1v1h-1zM436 504h1v1h-1zM437 503h1v1h-1zM438 503h1v1h-1zM439 502h1v1h-1zM440 502h1v1h-1zM441 501h1v1h-1zM442 501h1v1h-1zM443 502h1v1h-1zM444 502h1v1h-1zM445 503h1v1h-1zM446 503h1v1h-1zM447 504h1v1h-1zM448 504h1v1h-1zM449 505h1v1h-1zM450 505h1v1h-1zM451 504h1v1h-1zM452 503h1v1h-1zM453 502h1v1h-1zM454 501h1v1h-1zM455 500h1v1h-1zM456 500h1v1h-1zM457 499h1v1h-1zM458 499h1v1h-1zM459 498h1v1h-1zM460 498h1v1h-1zM461 497h1v1h-1zM462 497h1v1h-1zM463 498h1v1h-1zM464 499h1v1h-1zM465 499h1v1h-1zM466 500h1v1h-1zM467 499h1v1h-1zM468 499h1v1h-1zM469 498h1v1h-1zM470 498h1v1h-1zM471 499h1v1h-1zM472 499h1v1h-1zM473 500h1v1h-1zM474 500h1v1h-1zM475 501h1v1h-1zM476 501h1v1h-1zM477 502h1v1h-1zM478 502h1v1h-1zM479 502h1v1h-1zM480 501h1v1h-1zM481 501h1v1h-1zM482 501h1v1h-1zM483 501h1v1h-1zM484 500h1v1h-1zM485 500h1v1h-1zM486 500h1v1h-1zM487 500h1v1h-1zM488 500h1v1h-1zM489 500h1v1h-1zM490 500h1v1h-1zM491 499h1v1h-1zM492 499h1v1h-1zM493 498h1v1h-1zM494 498h1v1h-1zM495 497h1v1h-1zM496 496h1v1h-1zM497 494h1v2h-1zM498 493h1v1h-1zM499 492h1v1h-1zM500 493h1v1h-1zM501 494h1v1h-1zM502 495h1v1h-1zM503 496h1v1h-1zM504 497h1v1h-1zM505 497h1v1h-1zM506 498h1v1h-1zM507 499h1v1h-1zM508 500h1v1h-1zM509 500h1v1h-1zM510 501h1v1h-1zM511 500h1v1h-1zM512 500h1v1h-1zM513 499h1v1h-1zM514 499h1v1h-1zM515 499h1v1h-1zM516 500h1v1h-1zM517 500h1v1h-1zM518 500h1v1h-1zM519 500h1v1h-1zM520 500h1v1h-1zM521 500h1v1h-1zM522 500h1v2h-1zM523 502h1v3h-1zM524 505h1v2h-1zM525 507h1v3h-1zM526 510h1v2h-1zM527 509h1v2h-1zM528 507h1v2h-1zM529 505h1v2h-1zM530 503h1v2h-1zM531 501h1v2h-1zM532 501h1v1h-1zM533 502h1v1h-1zM534 502h1v1h-1zM535 502h1v1h-1zM536 502h1v1h-1zM537 502h1v1h-1zM538 502h1v1h-1zM539 502h1v1h-1zM540 502h1v1h-1zM541 502h1v1h-1zM542 502h1v1h-1zM543 502h1v1h-1zM544 502h1v1h-1zM545 502h1v1h-1zM546 502h1v1h-1zM547 502h1v1h-1zM548 502h1v1h-1zM549 502h1v1h-1zM550 502h1v1h-1zM551 502h1v1h-1zM552 501h1v1h-1zM553 501h1v1h-1zM554 500h1v1h-1zM555 500h1v1h-1zM556 500h1v1h-1zM557 500h1v1h-1zM558 500h1v1h-1zM559 501h1v1h-1zM560 501h1v1h-1zM561 502h1v1h-1zM562 502h1v1h-1zM563 502h1v1h-1zM564 502h1v1h-1zM565 502h1v1h-1zM566 502h1v1h-1zM567 502h1v1h-1zM568 502h1v1h-1zM569 502h1v1h-1zM570 502h1v1h-1zM571 502h1v1h-1zM572 502h1v1h-1zM573 503h1v1h-1zM574 504h1v1h-1zM575 505h1v1h-1zM576 506h1v1h-1zM577 507h1v1h-1zM578 508h1v1h-1zM579 508h1v1h-1zM580 507h1v1h-1zM581 507h1v1h-1zM582 506h1v1h-1zM583 506h1v1h-1zM584 506h1v1h-1zM585 507h1v1h-1zM586 507h1v1h-1zM587 507h1v1h-1zM588 507h1v1h-1zM589 506h1v1h-1zM590 506h1v1h-1zM591 505h1v1h-1zM592 505h1v1h-1zM593 504h1v1h-1zM594 504h1v1h-1zM595 505h1v1h-1zM596 506h1v1h-1zM597 506h1v1h-1zM598 507h1v1h-1zM599 508h1v1h-1zM600 509h1v1h-1zM601 509h1v1h-1zM602 510h1v1h-1zM603 510h1v1h-1zM604 511h1v1h-1zM605 511h1v1h-1zM606 511h1v1h-1zM607 512h1v1h-1zM608 512h1v1h-1zM609 512h1v1h-1zM610 513h1v1h-1zM611 514h1v1h-1zM612 514h1v1h-1zM613 515h1v1h-1zM614 516h1v1h-1zM615 514h1v2h-1zM616 513h1v1h-1zM617 511h1v2h-1zM618 510h1v1h-1zM619 510h1v1h-1zM620 510h1v1h-1zM621 511h1v1h-1zM622 511h1v1h-1zM623 511h1v1h-1zM624 511h1v1h-1zM625 512h1v1h-1zM626 512h1v1h-1zM627 513h1v1h-1zM628 513h1v1h-1zM629 514h1v1h-1zM630 514h1v1h-1zM631 514h1v1h-1zM632 513h1v1h-1zM633 513h1v1h-1zM634 513h1v1h-1zM635 511h1v2h-1zM636 509h1v2h-1zM637 507h1v2h-1zM638 505h1v2h-1zM639 504h1v1h-1zM640 504h1v1h-1zM641 503h1v1h-1zM642 503h1v1h-1zM643 502h1v1h-1zM644 502h1v1h-1zM645 501h1v1h-1zM646 501h1v1h-1zM647 500h1v1h-1zM648 500h1v1h-1zM649 499h1v1h-1zM650 499h1v1h-1zM651 497h1v2h-1zM652 495h1v2h-1zM653 493h1v2h-1zM654 491h1v2h-1zM655 492h1v1h-1zM656 493h1v1h-1zM657 494h1v1h-1zM658 495h1v1h-1zM659 496h1v1h-1zM660 495h1v1h-1zM661 495h1v1h-1zM662 494h1v1h-1zM663 493h1v1h-1zM664 493h1v1h-1zM665 492h1v1h-1zM666 492h1v1h-1zM667 491h1v1h-1zM668 491h1v1h-1zM669 490h1v1h-1zM670 490h1v1h-1zM671 489h1v1h-1zM672 489h1v1h-1zM673 488h1v1h-1zM674 488h1v1h-1zM675 489h1v1h-1zM676 490h1v1h-1zM677 490h1v1h-1zM678 491h1v1h-1zM679 492h1v1h-1zM680 493h1v1h-1zM681 494h1v1h-1zM682 495h1v1h-1zM683 496h1v1h-1zM684 496h1v1h-1zM685 496h1v1h-1zM686 496h1v1h-1zM687 495h1v1h-1zM688 494h1v1h-1zM689 494h1v1h-1zM690 493h1v1h-1zM691 492h1v1h-1zM692 493h1v1h-1zM693 494h1v2h-1zM694 496h1v1h-1zM695 497h1v1h-1zM696 497h1v1h-1zM697 498h1v1h-1zM698 498h1v1h-1zM699 497h1v1h-1zM700 497h1v1h-1zM701 496h1v1h-1zM702 496h1v1h-1zM703 496h1v1h-1zM704 496h1v1h-1zM705 495h1v1h-1zM706 495h1v1h-1zM707 495h1v1h-1zM708 495h1v1h-1zM709 494h1v1h-1zM710 494h1v1h-1zM711 494h1v1h-1zM712 495h1v1h-1zM713 495h1v1h-1zM714 495h1v1h-1zM715 494h1v1h-1zM716 494h1v1h-1zM717 493h1v1h-1zM718 493h1v1h-1zM719 493h1v1h-1zM720 492h1v1h-1zM721 492h1v1h-1zM722 492h1v1h-1zM723 491h1v1h-1zM724 490h1v1h-1zM725 489h1v1h-1zM726 488h1v1h-1zM727 487h1v1h-1zM728 487h1v1h-1zM729 488h1v1h-1zM730 488h1v1h-1zM731 489h1v1h-1zM732 489h1v1h-1zM733 490h1v1h-1zM734 490h1v1h-1zM735 491h1v1h-1zM736 491h1v1h-1zM737 491h1v1h-1zM738 492h1v1h-1zM739 492h1v1h-1zM740 492h1v1h-1zM741 492h1v1h-1zM742 493h1v1h-1zM743 493h1v1h-1zM744 494h1v1h-1zM745 494h1v1h-1zM746 495h1v2h-1zM747 497h1v1h-1zM748 498h1v2h-1zM749 500h1v1h-1zM750 501h1v1h-1zM751 502h1v1h-1zM752 502h1v1h-1zM753 503h1v1h-1zM754 504h1v1h-1zM755 504h1v1h-1zM756 505h1v1h-1zM757 505h1v1h-1zM758 505h1v1h-1zM759 506h1v1h-1zM760 506h1v1h-1zM761 507h1v1h-1zM762 507h1v1h-1zM763 508h1v1h-1zM764 507h1v1h-1zM765 506h1v1h-1zM766 505h1v1h-1zM767 505h1v1h-1zM768 506h1v1h-1zM769 506h1v1h-1zM770 506h1v1h-1zM771 505h1v1h-1zM772 505h1v1h-1zM773 504h1v1h-1zM774 504h1v1h-1zM775 503h1v1h-1zM776 502h1v1h-1zM777 502h1v1h-1zM778 501h1v1h-1zM779 500h1v1h-1zM780 500h1v1h-1zM781 499h1v1h-1zM782 497h1v2h-1zM783 496h1v1h-1zM784 495h1v1h-1zM785 493h1v2h-1zM786 492h1v1h-1zM787 491h1v1h-1zM788 491h1v1h-1zM789 490h1v1h-1zM790 491h1v1h-1zM791 492h1v1h-1zM792 492h1v1h-1zM793 493h1v1h-1zM794 494h1v1h-1zM795 494h1v1h-1zM796 493h1v1h-1zM797 493h1v1h-1zM798 492h1v1h-1zM799 492h1v1h-1zM800 491h1v1h-1zM801 489h1v2h-1zM802 488h1v1h-1zM803 486h1v2h-1zM804 484h1v2h-1zM805 482h1v2h-1zM806 481h1v1h-1zM807 482h1v1h-1zM808 483h1v1h-1zM809 484h1v1h-1zM810 484h1v1h-1zM811 485h1v1h-1zM812 486h1v1h-1zM813 487h1v1h-1zM814 488h1v1h-1zM815 489h1v2h-1zM816 491h1v1h-1zM817 492h1v1h-1zM818 493h1v1h-1zM819 492h1v1h-1zM820 491h1v1h-1zM821 490h1v1h-1zM822 489h1v1h-1zM823 490h1v1h-1zM824 491h1v1h-1zM825 492h1v1h-1zM826 493h1v1h-1zM827 494h1v1h-1zM828 494h1v1h-1zM829 493h1v1h-1zM830 493h1v1h-1zM831 493h1v1h-1zM832 492h1v1h-1zM833 492h1v1h-1zM834 491h1v1h-1zM835 492h1v1h-1zM836 492h1v1h-1zM837 493h1v1h-1zM838 493h1v1h-1zM839 494h1v1h-1zM840 493h1v1h-1zM841 493h1v1h-1zM842 492h1v1h-1zM843 492h1v1h-1zM844 493h1v1h-1zM845 493h1v1h-1zM846 494h1v1h-1zM847 494h1v1h-1zM848 494h1v1h-1zM849 494h1v1h-1zM850 493h1v1h-1zM851 493h1v1h-1zM852 493h1v1h-1zM853 494h1v1h-1zM854 494h1v1h-1zM855 495h1v1h-1zM856 496h1v1h-1zM857 496h1v1h-1zM858 497h1v1h-1zM859 498h1v1h-1zM860 498h1v1h-1zM861 498h1v1h-1zM862 498h1v1h-1zM863 498h1v1h-1zM864 498h1v1h-1zM865 498h1v1h-1zM866 498h1v1h-1zM867 498h1v1h-1zM868 498h1v1h-1zM869 498h1v1h-1zM870 499h1v1h-1zM871 499h1v1h-1zM872 499h1v1h-1zM873 500h1v1h-1zM874 500h1v1h-1zM875 499h1v1h-1zM876 498h1v1h-1zM877 498h1v1h-1zM878 497h1v1h-1zM879 496h1v1h-1zM880 496h1v1h-1zM881 496h1v1h-1zM882 496h1v1h-1zM883 496h1v1h-1zM884 496h1v1h-1zM885 496h1v1h-1zM886 496h1v1h-1zM887 496h1v1h-1zM888 496h1v1h-1zM889 495h1v1h-1zM890 495h1v1h-1zM891 494h1v1h-1zM892 494h1v1h-1zM893 493h1v1h-1zM894 493h1v1h-1zM895 493h1v1h-1zM896 493h1v1h-1zM897 493h1v1h-1zM898 493h1v1h-1zM899 493h1v1h-1zM900 494h1v1h-1zM901 494h1v1h-1zM902 495h1v1h-1zM903 495h1v1h-1zM904 495h1v1h-1zM905 494h1v1h-1zM906 494h1v1h-1zM907 494h1v1h-1zM908 495h1v1h-1zM909 495h1v1h-1zM910 495h1v1h-1zM911 495h1v1h-1zM912 496h1v1h-1zM913 496h1v1h-1zM914 497h1v1h-1zM915 497h1v1h-1zM916 498h1v1h-1zM917 498h1v1h-1zM918 499h1v1h-1zM919 499h1v1h-1zM920 498h1v1h-1zM921 496h1v2h-1zM922 495h1v1h-1zM923 494h1v1h-1zM924 492h1v2h-1zM925 491h1v1h-1z" fill="#1e90ff" shape-rendering="crispEdges" />
<text x="10.2" y="475" font-size="9.4" fill="#000" stroke="#000" stroke-width="0.25">RSI(14) 62.3761</text>
<rect x="1169" y="465" width="2" height="1" fill="#000"/>
<text x="1172" y="474.2" font-size="9.1" fill="#000" stroke="#000" stroke-width="0.25">100</text>
<rect x="1169" y="485" width="2" height="1" fill="#000"/>
<text x="1172" y="489" font-size="9.1" fill="#000" stroke="#000" stroke-width="0.25">70</text>
<rect x="1169" y="511" width="2" height="1" fill="#000"/>
<text x="1172" y="514.9" font-size="9.1" fill="#000" stroke="#000" stroke-width="0.25">30</text>
<rect x="1169" y="531" width="2" height="1" fill="#000"/>
<text x="1172" y="529" font-size="9.1" fill="#000" stroke="#000" stroke-width="0.25">0</text>
<rect x="6" y="533" width="1" height="3" fill="#000"/>
<text x="5.5" y="544.6" font-size="9" fill="#000" stroke="#000" stroke-width="0.3">13 Jun 2019</text>
<rect x="70" y="533" width="1" height="3" fill="#000"/>
<text x="69.5" y="544.6" font-size="9" fill="#000" stroke="#000" stroke-width="0.3">5 Jul 2019</text>
<rect x="134" y="533" width="1" height="3" fill="#000"/>
<text x="133.5" y="544.6" font-size="9" fill="#000" stroke="#000" stroke-width="0.3">29 Jul 2019</text>
<rect x="198" y="533" width="1" height="3" fill="#000"/>
<text x="197.5" y="544.6" font-size="9" fill="#000" stroke="#000" stroke-width="0.3">20 Aug 2019</text>
<rect x="262" y="533" width="1" height="3" fill="#000"/>
<text x="261.5" y="544.6" font-size="9" fill="#000" stroke="#000" stroke-width="0.3">11 Sep 2019</text>
<rect x="326" y="533" width="1" height="3" fill="#000"/>
<text x="325.5" y="544.6" font-size="9" fill="#000" stroke="#000" stroke-width="0.3">3 Oct 2019</text>
<rect x="390" y="533" width="1" height="3" fill="#000"/>
<text x="389.5" y="544.6" font-size="9" fill="#000" stroke="#000" stroke-width="0.3">25 Oct 2019</text>
<rect x="454" y="533" width="1" height="3" fill="#000"/>
<text x="453.5" y="544.6" font-size="9" fill="#000" stroke="#000" stroke-width="0.3">18 Nov 2019</text>
<rect x="518" y="533" width="1" height="3" fill="#000"/>
<text x="517.5" y="544.6" font-size="9" fill="#000" stroke="#000" stroke-width="0.3">10 Dec 2019</text>
<rect x="582" y="533" width="1" height="3" fill="#000"/>
<text x="581.5" y="544.6" font-size="9" fill="#000" stroke="#000" stroke-width="0.3">1 Jan 2020</text>
<rect x="646" y="533" width="1" height="3" fill="#000"/>
<text x="645.5" y="544.6" font-size="9" fill="#000" stroke="#000" stroke-width="0.3">23 Jan 2020</text>
<rect x="710" y="533" width="1" height="3" fill="#000"/>
<text x="709.5" y="544.6" font-size="9" fill="#000" stroke="#000" stroke-width="0.3">14 Feb 2020</text>
<rect x="774" y="533" width="1" height="3" fill="#000"/>
<text x="773.5" y="544.6" font-size="9" fill="#000" stroke="#000" stroke-width="0.3">9 Mar 2020</text>
<rect x="838" y="533" width="1" height="3" fill="#000"/>
<text x="837.5" y="544.6" font-size="9" fill="#000" stroke="#000" stroke-width="0.3">31 Mar 2020</text>
<rect x="902" y="533" width="1" height="3" fill="#000"/>
<text x="901.5" y="544.6" font-size="9" fill="#000" stroke="#000" stroke-width="0.3">23 Apr 2020</text>
<rect x="0" y="554" width="1216" height="24" fill="#f0f0f0"/>
<rect x="1" y="555" width="1215" height="1" fill="#000"/>
<rect x="2" y="555" width="1" height="19" fill="#696969"/>
<rect x="0" y="574" width="3" height="1" fill="#696969"/>
<rect x="0" y="575" width="1216" height="3" fill="#f7f7f7"/>
<text x="18.2" y="569.5" font-size="12" fill="#707070" textLength="84.8" lengthAdjust="spacingAndGlyphs">EURUSD-,Daily</text>
<text x="127.3" y="569.5" font-size="12" fill="#707070" textLength="67.1" lengthAdjust="spacingAndGlyphs">USDJPY-,H4</text>
<text x="218.2" y="569.5" font-size="12" fill="#707070" textLength="61.1" lengthAdjust="spacingAndGlyphs">DJ30-,M15</text>
<text x="303.6" y="569.5" font-size="12" fill="#707070" textLength="82.9" lengthAdjust="spacingAndGlyphs">USDCHF-,Daily</text>
<text x="409.5" y="569.5" font-size="12" fill="#707070" textLength="54.0" lengthAdjust="spacingAndGlyphs">HK50-,H1</text>
<text x="485.3" y="569.5" font-size="12" fill="#707070" textLength="66.3" lengthAdjust="spacingAndGlyphs">GBPJPY-,H1</text>
<text x="575.4" y="569.5" font-size="12" fill="#707070" textLength="67.1" lengthAdjust="spacingAndGlyphs">CADJPY-,H1</text>
<text x="665.6" y="569.5" font-size="12" fill="#707070" textLength="69.7" lengthAdjust="spacingAndGlyphs">EURCHF-,H1</text>
<text x="757.4" y="569.5" font-size="12" fill="#707070" textLength="66.3" lengthAdjust="spacingAndGlyphs">JPN225-,H4</text>
<text x="847.4" y="569.5" font-size="12" fill="#707070" textLength="55.2" lengthAdjust="spacingAndGlyphs">USOil-,H1</text>
<text x="926.3" y="569.5" font-size="12" fill="#707070" textLength="85.3" lengthAdjust="spacingAndGlyphs">USDCAD-,Daily</text>
<rect x="115" y="558" width="1" height="13" fill="#505050"/>
<rect x="207" y="558" width="1" height="13" fill="#505050"/>
<rect x="291" y="558" width="1" height="13" fill="#505050"/>
<rect x="399" y="558" width="1" height="13" fill="#505050"/>
<rect x="475" y="558" width="1" height="13" fill="#505050"/>
<rect x="563" y="558" width="1" height="13" fill="#505050"/>
<rect x="655" y="558" width="1" height="13" fill="#505050"/>
<rect x="747" y="558" width="1" height="13" fill="#505050"/>
<rect x="835" y="558" width="1" height="13" fill="#505050"/>
<rect x="915" y="558" width="1" height="13" fill="#505050"/>
<rect x="1023" y="555" width="112" height="19" fill="#000"/>
<rect x="1024" y="555" width="110" height="18" fill="#fff"/>
<text x="1035.4" y="569.6" font-size="12" fill="#000" textLength="87.3" lengthAdjust="spacingAndGlyphs">USDCNH-,Daily</text>
<text x="1145.5" y="569.6" font-size="12" fill="#707070">AUDU</text>
<rect x="1178" y="556" width="38" height="18" fill="#f0f0f0"/>
<path d="M1183.5,564.2 L1187.5,561.2 L1187.5,567.2 Z" fill="#000"/>
<path d="M1206.5,564.2 L1202.5,561.2 L1202.5,567.2 Z" fill="#000"/>
</svg></body></html>
